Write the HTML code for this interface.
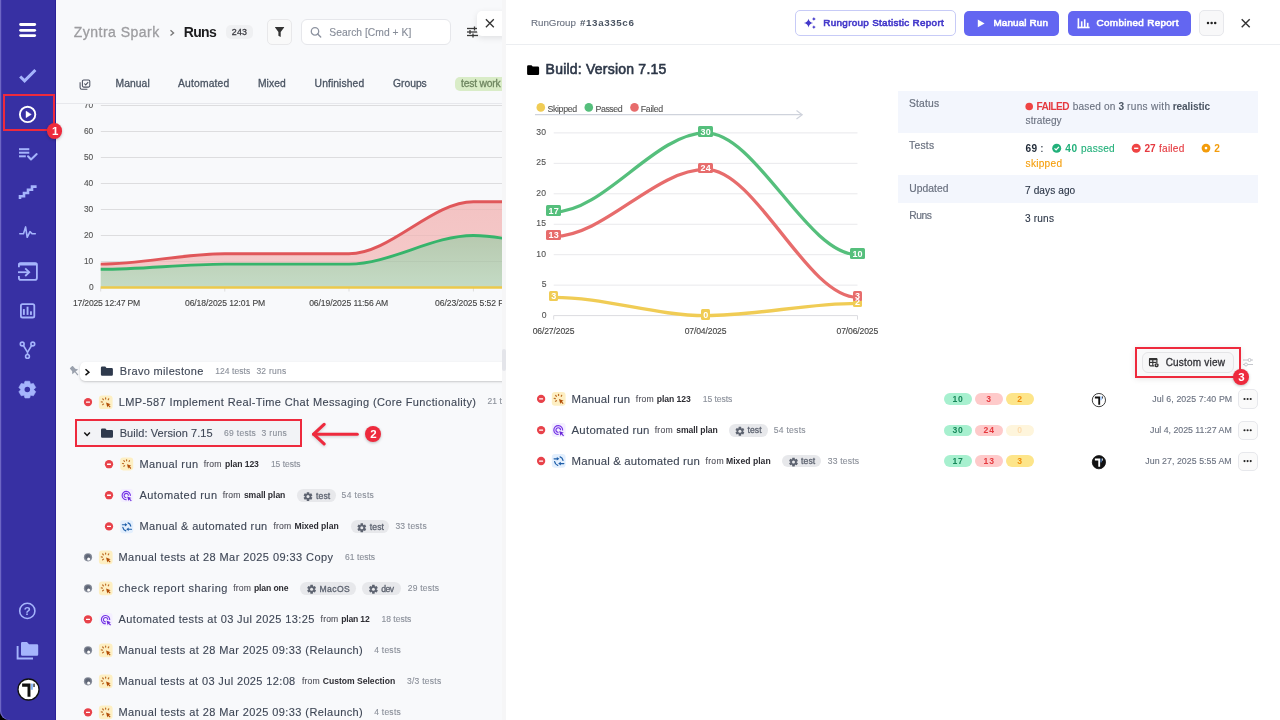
<!DOCTYPE html>
<html><head><meta charset="utf-8"><title>Runs</title>
<style>
html,body{margin:0;padding:0;}
body{width:1280px;height:720px;position:relative;overflow:hidden;background:#f8f9fb;font-family:"Liberation Sans", Arial, sans-serif;}

</style></head><body>
<div style="position:absolute;left:0px;top:0px;width:56px;height:720px;z-index:1;background:#3730a3;border-bottom-left-radius:9px;box-shadow:inset 1.2px 0 0 #6d66c4;"></div>
<div style="position:absolute;left:0px;top:700px;width:12px;height:20px;z-index:0;background:#000;"></div>
<div style="position:absolute;left:55px;top:0px;width:1px;height:720px;z-index:2;background:#2a2196;"></div>
<svg style="position:absolute;left:18px;top:22px;z-index:3;overflow:visible;" width="21" height="17" viewBox="0 0 21 17"><g transform="translate(0.000,0.000)"><line x1="2.6" y1="2.5" x2="16.7" y2="2.5" stroke="#fff" stroke-width="2.8" stroke-linecap="round"/><line x1="2.6" y1="8.3" x2="16.7" y2="8.3" stroke="#fff" stroke-width="2.8" stroke-linecap="round"/><line x1="2.6" y1="13.6" x2="16.7" y2="13.6" stroke="#fff" stroke-width="2.8" stroke-linecap="round"/></g></svg>
<svg style="position:absolute;left:18px;top:66px;z-index:3;overflow:visible;" width="21" height="19" viewBox="0 0 21 19"><g transform="translate(0.000,0.000)"><polyline points="2.2,10.5 6.6,14.8 17.4,4" fill="none" stroke="#a5b4fc" stroke-width="3" stroke-linecap="butt"/></g></svg>
<svg style="position:absolute;left:18px;top:104px;z-index:3;overflow:visible;" width="21" height="22" viewBox="0 0 21 22"><g transform="translate(0.000,0.500)"><circle cx="9.6" cy="9.9" r="7.7" fill="none" stroke="#fff" stroke-width="1.9"/><path d="M8 6.6 L13.3 9.9 L8 13.2 Z" fill="#fff" stroke="#fff" stroke-width="0.4" stroke-linejoin="round"/></g></svg>
<svg style="position:absolute;left:18px;top:146px;z-index:3;overflow:visible;" width="21" height="17" viewBox="0 0 21 17"><g transform="translate(0.000,0.000)"><g stroke="#a5b4fc" stroke-width="2" fill="none"><line x1="1" y1="3.2" x2="11.3" y2="3.2"/><line x1="1" y1="6.7" x2="11.3" y2="6.7"/><line x1="1" y1="10.3" x2="7.8" y2="10.3"/><polyline points="10,10.3 13,13.5 18.7,8.1" stroke-linecap="round" stroke-linejoin="round"/></g></g></svg>
<svg style="position:absolute;left:18px;top:185px;z-index:3;overflow:visible;" width="21" height="17" viewBox="0 0 21 17"><g transform="translate(0.000,0.000)"><path d="M2 14 L2 11.3 L6 11.3 L6 8 L10 8 L10 4.7 L14 4.7 L14 1.6 L18.6 1.6" fill="none" stroke="#a5b4fc" stroke-width="2.6" stroke-linejoin="miter"/></g></svg>
<svg style="position:absolute;left:18px;top:224px;z-index:3;overflow:visible;" width="21" height="17" viewBox="0 0 21 17"><g transform="translate(0.000,0.000)"><polyline points="1.8,9.8 5.5,9.8 7.6,2.9 9.2,13.3 12,7.7 14.2,9.8 17.3,9.8" fill="none" stroke="#a5b4fc" stroke-width="1.6" stroke-linejoin="round" stroke-linecap="round"/></g></svg>
<svg style="position:absolute;left:17px;top:261px;z-index:3;overflow:visible;" width="23" height="22" viewBox="0 0 23 22"><g transform="translate(0.000,0.000)"><g fill="none" stroke="#a5b4fc" stroke-width="1.8"><path d="M1.9 6.2 V4 Q1.9 2.2 3.8 2.2 H18 Q19.9 2.2 19.9 4 V16.9 Q19.9 18.8 18 18.8 H3.8 Q1.9 18.8 1.9 16.9 V15"/><line x1="1" y1="11.2" x2="12.2" y2="11.2"/><polyline points="8.2,7.4 12.2,11.2 8.2,15"/></g><rect x="1.5" y="1.8" width="18.8" height="2.7" rx="1" fill="#a5b4fc"/></g></svg>
<svg style="position:absolute;left:18px;top:302px;z-index:3;overflow:visible;" width="21" height="19" viewBox="0 0 21 19"><g transform="translate(0.000,0.000)"><g fill="none" stroke="#a5b4fc" stroke-width="1.8"><rect x="2.9" y="2.1" width="13.4" height="13.4" rx="1.6"/></g><g fill="#a5b4fc"><rect x="4.9" y="7.1" width="1.9" height="5.8"/><rect x="8.6" y="4.7" width="1.9" height="8.2"/><rect x="12" y="9.3" width="1.9" height="3.6"/></g></g></svg>
<svg style="position:absolute;left:18px;top:339px;z-index:3;overflow:visible;" width="21" height="22" viewBox="0 0 21 22"><g transform="translate(0.000,0.500)"><g fill="none" stroke="#a5b4fc" stroke-width="1.6"><circle cx="4.2" cy="4.5" r="1.9"/><circle cx="14.8" cy="4.5" r="1.9"/><circle cx="9.5" cy="16.9" r="1.9"/><path d="M5.4 6 L9.5 12.8 L13.6 6 M9.5 12.8 V15"/></g></g></svg>
<svg style="position:absolute;left:18px;top:380px;z-index:3;overflow:visible;" width="20" height="20" viewBox="0 0 20 20"><g transform="translate(0.000,0.000)"><polygon points="6.14,3.81 6.98,1.22 11.62,1.22 12.46,3.81 12.40,4.23 12.73,3.96 15.40,3.40 17.72,7.42 15.90,9.44 15.50,9.60 15.90,9.76 17.72,11.78 15.40,15.80 12.73,15.24 12.40,14.97 12.46,15.39 11.62,17.98 6.98,17.98 6.14,15.39 6.20,14.97 5.87,15.24 3.20,15.80 0.88,11.78 2.70,9.76 3.10,9.60 2.70,9.44 0.88,7.42 3.20,3.40 5.87,3.96 6.20,4.23" fill="#a5b4fc" stroke="#a5b4fc" stroke-width="0.6" stroke-linejoin="round"/><circle cx="9.3" cy="9.6" r="2.75" fill="#3730a3"/></g></svg>
<svg style="position:absolute;left:18px;top:600px;z-index:3;overflow:visible;" width="21" height="22" viewBox="0 0 21 22"><g transform="translate(0.000,0.700)"><circle cx="9.3" cy="10.2" r="7.6" fill="none" stroke="#a5b4fc" stroke-width="1.6"/><text x="9.3" y="14.3" text-anchor="middle" font-family="Liberation Sans" font-size="11.5" font-weight="700" fill="#a5b4fc">?</text></g></svg>
<svg style="position:absolute;left:16px;top:641px;z-index:3;overflow:visible;" width="25" height="21" viewBox="0 0 25 21"><g transform="translate(0.000,0.000)"><path d="M1.6 5 V17.5 H17" fill="none" stroke="#a5b4fc" stroke-width="1.9"/><path d="M5 2.2 Q5 1 6.2 1 H11 L13 3.2 H21 Q22.2 3.2 22.2 4.4 V13.5 Q22.2 14.7 21 14.7 H6.2 Q5 14.7 5 13.5 Z" fill="#a5b4fc"/></g></svg>
<svg style="position:absolute;left:17px;top:678px;z-index:3;overflow:visible;" width="24" height="24" viewBox="0 0 24 24"><g transform="translate(0.400,0.400)"><circle cx="11.1" cy="11.1" r="10.510619469026548" fill="#fff" stroke="#111" stroke-width="1.28"/><g transform="translate(11.1,11.1) scale(0.982)"><path d="M-6.5 -6 H2 V7.5 H-1 V-2.75 H-6.5 Z" fill="#111"/><rect x="2.75" y="-6" width="1.5" height="6.25" fill="#6aa5f5"/><rect x="5" y="-6" width="1.25" height="3.5" fill="#111"/></g></g></svg>
<div style="position:absolute;left:502px;top:0px;width:4px;height:720px;z-index:3;background:#f6f6f7;"></div>
<div style="position:absolute;left:502.2px;top:348.5px;width:3.6px;height:22.5px;z-index:4;background:#e4e5ea;border-radius:2px;"></div>
<div style="position:absolute;left:2.5px;top:94.4px;width:52.3px;height:37.099999999999994px;z-index:20;box-sizing:border-box;border:2.4px solid #ee2a3d;"></div>
<div style="position:absolute;left:47.199999999999996px;top:123.4px;width:15.2px;height:15.2px;z-index:21;background:#ee2a3d;border-radius:50%;box-shadow:0 1px 3px rgba(0,0,0,0.25);"></div>
<svg class="t" id="t139" style="position:absolute;left:51px;top:95px;z-index:22;overflow:visible" width="1" height="1"><text x="0.90" y="40.20" font-family="Liberation Sans, Arial, sans-serif" font-size="11.5" font-weight="700" fill="#fff" style="letter-spacing:0.000px;">1</text></svg>
<div style="position:absolute;left:75.1px;top:418.9px;width:227.00000000000003px;height:28.200000000000045px;z-index:20;box-sizing:border-box;border:2.4px solid #ee2a3d;"></div>
<svg style="position:absolute;left:310px;top:421px;z-index:20;overflow:visible;" width="51" height="27" viewBox="0 0 51 27"><g transform="translate(0.000,0.000)"><g fill="none" stroke="#ee2a3d" stroke-width="3.1" stroke-linecap="round" stroke-linejoin="round" style="filter:drop-shadow(0 1px 1.5px rgba(0,0,0,0.18))"><line x1="3.6" y1="13.2" x2="47.3" y2="13.2"/><polyline points="14.1,3.4 3.6,13.2 14.1,22.9"/></g></g></svg>
<div style="position:absolute;left:365.0px;top:425.79999999999995px;width:16.2px;height:16.2px;z-index:21;background:#ee2a3d;border-radius:50%;box-shadow:0 1px 3px rgba(0,0,0,0.25);"></div>
<svg class="t" id="t140" style="position:absolute;left:370px;top:398px;z-index:22;overflow:visible" width="1" height="1"><text x="0.20" y="40.10" font-family="Liberation Sans, Arial, sans-serif" font-size="11.5" font-weight="700" fill="#fff" style="letter-spacing:0.000px;">2</text></svg>
<div style="position:absolute;left:1135.4px;top:347.4px;width:106.09999999999991px;height:30.30000000000001px;z-index:20;box-sizing:border-box;border:2.4px solid #ee2a3d;"></div>
<div style="position:absolute;left:1233.3px;top:369.3px;width:15.8px;height:15.8px;z-index:21;background:#ee2a3d;border-radius:50%;box-shadow:0 1px 3px rgba(0,0,0,0.25);"></div>
<svg class="t" id="t141" style="position:absolute;left:1238px;top:341px;z-index:22;overflow:visible" width="1" height="1"><text x="0.30" y="40.40" font-family="Liberation Sans, Arial, sans-serif" font-size="11.5" font-weight="700" fill="#fff" style="letter-spacing:0.000px;">3</text></svg>
<div style="position:absolute;left:56px;top:0px;width:446px;height:720px;overflow:hidden;z-index:0;background:#f8f9fb;">
<svg class="t" id="t0" style="position:absolute;left:17px;top:-4px;z-index:5;overflow:visible" width="1" height="1"><text x="0.75" y="40.70" font-family="Liberation Sans, Arial, sans-serif" font-size="14" font-weight="400" fill="#9d9da0" stroke="#9d9da0" stroke-width="0.3" style="letter-spacing:0.487px;">Zyntra Spark</text></svg>
<svg style="position:absolute;left:113px;top:29px;z-index:3;overflow:visible;" width="8" height="9" viewBox="0 0 8 9"><g transform="translate(0.000,0.000)"><polyline points="1.5,1.2 4.6,3.9 1.5,6.6" fill="none" stroke="#777" stroke-width="1.3"/></g></svg>
<svg class="t" id="t1" style="position:absolute;left:127px;top:-4px;z-index:5;overflow:visible" width="1" height="1"><text x="0.80" y="40.75" font-family="Liberation Sans, Arial, sans-serif" font-size="14" font-weight="700" fill="#1c1c1e" style="letter-spacing:-0.705px;">Runs</text></svg>
<div style="position:absolute;left:170px;top:25.4px;width:27px;height:13.3px;z-index:1;background:#eff0f2;border-radius:5px;"></div>
<svg class="t" id="t2" style="position:absolute;left:175px;top:-5px;z-index:5;overflow:visible" width="1" height="1"><text x="0.70" y="40.00" font-family="Liberation Sans, Arial, sans-serif" font-size="8.9" font-weight="400" fill="#3a3a40" stroke="#3a3a40" stroke-width="0.3" style="letter-spacing:0.264px;">243</text></svg>
<div style="position:absolute;left:211.39999999999998px;top:19.4px;width:24.8px;height:25.2px;z-index:1;box-sizing:border-box;border:1px solid #e8e8ea;border-radius:5px;background:#f9f9f9;"></div>
<svg style="position:absolute;left:218px;top:26px;z-index:3;overflow:visible;" width="12" height="13" viewBox="0 0 12 13"><g transform="translate(0.800,0.700)"><path d="M0.4 0.3 H9.2 Q9.6 0.3 9.3 0.8 L5.9 5.2 V10.2 L3.6 9 V5.2 L0.3 0.8 Q0 0.3 0.4 0.3 Z" fill="#333"/></g></svg>
<div style="position:absolute;left:244.60000000000002px;top:18.8px;width:150.4px;height:25.8px;z-index:1;box-sizing:border-box;border:1px solid #e6e7eb;border-radius:6px;background:#fff;"></div>
<svg style="position:absolute;left:254px;top:26px;z-index:3;overflow:visible;" width="13" height="14" viewBox="0 0 13 14"><g transform="translate(0.000,0.500)"><circle cx="5" cy="4.9" r="3.7" fill="none" stroke="#8d93a0" stroke-width="1.3"/><line x1="7.7" y1="7.6" x2="10.7" y2="10.6" stroke="#8d93a0" stroke-width="1.4" stroke-linecap="round"/></g></svg>
<svg class="t" id="t3" style="position:absolute;left:273px;top:-5px;z-index:5;overflow:visible" width="1" height="1"><text x="0.30" y="40.80" font-family="Liberation Sans, Arial, sans-serif" font-size="10.3" font-weight="400" fill="#878d99" stroke="#878d99" stroke-width="0.12" style="letter-spacing:0.027px;">Search [Cmd + K]</text></svg>
<svg style="position:absolute;left:410px;top:26px;z-index:3;overflow:visible;" width="15" height="14" viewBox="0 0 15 14"><g transform="translate(0.000,0.500)"><g stroke="#3a3a3a" stroke-width="1.3"><line x1="1" y1="2" x2="12" y2="2"/><line x1="1" y1="5.5" x2="12" y2="5.5"/><line x1="1" y1="9" x2="12" y2="9"/><line x1="8.5" y1="0" x2="8.5" y2="4"/><line x1="4" y1="3.5" x2="4" y2="7.5"/><line x1="7" y1="7" x2="7" y2="11"/></g></g></svg>
<div style="position:absolute;left:421.2px;top:10.6px;width:30px;height:25.2px;z-index:6;background:#fff;border-radius:5px;box-shadow:0 2px 6px rgba(0,0,0,0.10);"></div>
<svg style="position:absolute;left:429px;top:18px;z-index:7;overflow:visible;" width="11" height="11" viewBox="0 0 11 11"><g transform="translate(0.300,0.700)"><path d="M0.6 0.6 L8.5 8.5 M8.5 0.6 L0.6 8.5" stroke="#333" stroke-width="1.3"/></g></svg>
<svg style="position:absolute;left:23px;top:79px;z-index:3;overflow:visible;" width="13" height="12" viewBox="0 0 13 12"><g transform="translate(0.000,0.000)"><g fill="none" stroke="#4b5160" stroke-width="1.05"><rect x="3.4" y="0.9" width="7.4" height="7.2" rx="1.3"/><path d="M1.1 3.2 V8.6 Q1.1 10.3 2.8 10.3 H8.4"/><polyline points="5.3,4.5 6.7,5.9 9.2,3.2"/></g></g></svg>
<svg class="t" id="t4" style="position:absolute;left:59px;top:47px;z-index:5;overflow:visible" width="1" height="1"><text x="0.50" y="40.20" font-family="Liberation Sans, Arial, sans-serif" font-size="10.3" font-weight="400" fill="#4b5563" stroke="#4b5563" stroke-width="0.3" style="letter-spacing:0.083px;">Manual</text></svg>
<svg class="t" id="t5" style="position:absolute;left:122px;top:47px;z-index:5;overflow:visible" width="1" height="1"><text x="0.00" y="40.20" font-family="Liberation Sans, Arial, sans-serif" font-size="10.3" font-weight="400" fill="#4b5563" stroke="#4b5563" stroke-width="0.3" style="letter-spacing:0.178px;">Automated</text></svg>
<svg class="t" id="t6" style="position:absolute;left:201px;top:47px;z-index:5;overflow:visible" width="1" height="1"><text x="0.90" y="40.20" font-family="Liberation Sans, Arial, sans-serif" font-size="10.3" font-weight="400" fill="#4b5563" stroke="#4b5563" stroke-width="0.3" style="letter-spacing:0.090px;">Mixed</text></svg>
<svg class="t" id="t7" style="position:absolute;left:258px;top:47px;z-index:5;overflow:visible" width="1" height="1"><text x="0.60" y="40.20" font-family="Liberation Sans, Arial, sans-serif" font-size="10.3" font-weight="400" fill="#4b5563" stroke="#4b5563" stroke-width="0.3" style="letter-spacing:0.097px;">Unfinished</text></svg>
<svg class="t" id="t8" style="position:absolute;left:337px;top:47px;z-index:5;overflow:visible" width="1" height="1"><text x="0.10" y="40.20" font-family="Liberation Sans, Arial, sans-serif" font-size="10.3" font-weight="400" fill="#4b5563" stroke="#4b5563" stroke-width="0.3" style="letter-spacing:-0.024px;">Groups</text></svg>
<div style="position:absolute;left:399px;top:76.5px;width:60px;height:14.6px;z-index:1;background:#d9ecc7;border-radius:5px;"></div>
<svg class="t" id="t9" style="position:absolute;left:405px;top:47px;z-index:5;overflow:visible" width="1" height="1"><text x="0.00" y="40.30" font-family="Liberation Sans, Arial, sans-serif" font-size="10.3" font-weight="400" fill="#6f8661" stroke="#6f8661" stroke-width="0.3" style="letter-spacing:-0.194px;">test work</text></svg>
<div style="position:absolute;left:0px;top:103px;width:446px;height:1px;z-index:4;background:#e7e8ec;"></div>
<div style="position:absolute;left:24.299999999999997px;top:361.8px;width:440px;height:19.2px;z-index:2;background:#fff;border-radius:5px;box-shadow:0 1px 3px rgba(0,0,0,0.12),0 1px 1.5px rgba(0,0,0,0.08);"></div>
<svg style="position:absolute;left:13px;top:365px;z-index:3;overflow:visible;" width="12" height="13" viewBox="0 0 12 13"><g transform="translate(0.500,0.500)"><g transform="rotate(-40 5 5.5)" fill="#9aa1ad"><rect x="3" y="0.3" width="4" height="4.6" rx="0.6"/><path d="M1.2 6.6 L2.8 4.4 H7.2 L8.8 6.6 Z"/><rect x="4.4" y="6.4" width="1.2" height="4.4"/></g></g></svg>
<svg style="position:absolute;left:28px;top:368px;z-index:3;overflow:visible;" width="8" height="9" viewBox="0 0 8 9"><g transform="translate(0.500,0.500)"><polyline points="1,0.8 4.4,3.7 1,6.6" fill="none" stroke="#111" stroke-width="1.5"/></g></svg>
<svg style="position:absolute;left:44px;top:366px;z-index:3;overflow:visible;" width="14" height="11" viewBox="0 0 14 11"><g transform="translate(0.900,0.600)"><path d="M0 1.2 Q0 0 1.2 0 H4.4 L5.6 1.4 H10.8 Q12 1.4 12 2.6 V7.999999999999999 Q12 9.2 10.8 9.2 H1.2 Q0 9.2 0 7.999999999999999 Z" fill="#2f3a4d"/></g></svg>
<svg class="t" id="t22" style="position:absolute;left:63px;top:335px;z-index:4;overflow:visible" width="1" height="1"><text x="0.80" y="40.00" font-family="Liberation Sans, Arial, sans-serif" font-size="11" font-weight="400" fill="#3f4756" stroke="#3f4756" stroke-width="0.12" style="letter-spacing:0.332px;">Bravo milestone</text></svg>
<svg class="t" id="t23" style="position:absolute;left:159px;top:333px;z-index:4;overflow:visible" width="1" height="1"><text x="0.20" y="40.90" font-family="Liberation Sans, Arial, sans-serif" font-size="8.5" font-weight="400" fill="#8b909a" stroke="#8b909a" stroke-width="0.12" style="letter-spacing:0.070px;">124 tests</text></svg>
<svg class="t" id="t24" style="position:absolute;left:200px;top:333px;z-index:4;overflow:visible" width="1" height="1"><text x="0.40" y="40.90" font-family="Liberation Sans, Arial, sans-serif" font-size="8.5" font-weight="400" fill="#8b909a" stroke="#8b909a" stroke-width="0.12" style="letter-spacing:0.233px;">32 runs</text></svg>
<svg style="position:absolute;left:27px;top:397px;z-index:3;overflow:visible;" width="11" height="12" viewBox="0 0 11 12"><g transform="translate(0.000,0.100)"><circle cx="5" cy="5" r="4.15" fill="#e8424a"/><rect x="3" y="4.4" width="4" height="1.3" rx="0.3" fill="#fff"/></g></svg>
<svg style="position:absolute;left:42px;top:395px;z-index:3;overflow:visible;" width="16" height="16" viewBox="0 0 16 16"><g transform="translate(0.900,0.400)"><rect x="0" y="0" width="13.7" height="13.7" rx="3.20" fill="#fdefc3"/><g transform="scale(1.000)"><g stroke="#b8621a" stroke-width="1.25" stroke-linecap="round" opacity="0.9"><line x1="6.7" y1="2.5" x2="6.7" y2="3.5"/><line x1="3.8" y1="3.5" x2="4.5" y2="4.3"/><line x1="9.8" y1="3.4" x2="9.4" y2="4.3"/><line x1="2.4" y1="6.4" x2="3.5" y2="6.6"/><line x1="3.7" y1="9.3" x2="4.6" y2="8.7"/></g><path d="M7.2 7.1 L11.7 8.8 L10 9.6 L11.7 11.3 L10.9 12.1 L9.2 10.4 L8.4 12 Z" fill="#b34d06"/></g></g></svg>
<svg class="t" id="t25" style="position:absolute;left:62px;top:365px;z-index:4;overflow:visible" width="1" height="1"><text x="0.80" y="40.70" font-family="Liberation Sans, Arial, sans-serif" font-size="11" font-weight="400" fill="#3f4756" stroke="#3f4756" stroke-width="0.12" style="letter-spacing:0.374px;">LMP-587 Implement Real-Time Chat Messaging (Core Functionality)</text></svg>
<svg class="t" id="t26" style="position:absolute;left:431px;top:364px;z-index:4;overflow:visible" width="1" height="1"><text x="0.50" y="40.20" font-family="Liberation Sans, Arial, sans-serif" font-size="8.5" font-weight="400" fill="#8b909a" stroke="#8b909a" stroke-width="0.12" style="letter-spacing:0.069px;">21 tests</text></svg>
<div style="position:absolute;left:21px;top:420.5px;width:223px;height:25px;z-index:1;background:#f2f3f6;"></div>
<svg style="position:absolute;left:27px;top:431px;z-index:3;overflow:visible;" width="9" height="8" viewBox="0 0 9 8"><g transform="translate(0.500,0.500)"><polyline points="0.8,1 3.6,4 6.4,1" fill="none" stroke="#111" stroke-width="1.5"/></g></svg>
<svg style="position:absolute;left:45px;top:428px;z-index:3;overflow:visible;" width="13" height="11" viewBox="0 0 13 11"><g transform="translate(0.000,0.500)"><path d="M0 1.2 Q0 0 1.2 0 H4.4 L5.6 1.4 H10.8 Q12 1.4 12 2.6 V7.999999999999999 Q12 9.2 10.8 9.2 H1.2 Q0 9.2 0 7.999999999999999 Z" fill="#2f3a4d"/></g></svg>
<svg class="t" id="t27" style="position:absolute;left:63px;top:397px;z-index:4;overflow:visible" width="1" height="1"><text x="0.70" y="40.00" font-family="Liberation Sans, Arial, sans-serif" font-size="11" font-weight="400" fill="#3f4756" stroke="#3f4756" stroke-width="0.12" style="letter-spacing:0.066px;">Build: Version 7.15</text></svg>
<svg class="t" id="t28" style="position:absolute;left:168px;top:395px;z-index:4;overflow:visible" width="1" height="1"><text x="0.10" y="40.60" font-family="Liberation Sans, Arial, sans-serif" font-size="8.5" font-weight="400" fill="#8b909a" stroke="#8b909a" stroke-width="0.12" style="letter-spacing:0.283px;">69 tests</text></svg>
<svg class="t" id="t29" style="position:absolute;left:205px;top:395px;z-index:4;overflow:visible" width="1" height="1"><text x="0.60" y="40.60" font-family="Liberation Sans, Arial, sans-serif" font-size="8.5" font-weight="400" fill="#8b909a" stroke="#8b909a" stroke-width="0.12" style="letter-spacing:0.325px;">3 runs</text></svg>
<svg style="position:absolute;left:48px;top:459px;z-index:3;overflow:visible;" width="11" height="12" viewBox="0 0 11 12"><g transform="translate(0.000,0.200)"><circle cx="5" cy="5" r="4.15" fill="#e8424a"/><rect x="3" y="4.4" width="4" height="1.3" rx="0.3" fill="#fff"/></g></svg>
<svg style="position:absolute;left:64px;top:457px;z-index:3;overflow:visible;" width="15" height="15" viewBox="0 0 15 15"><g transform="translate(0.200,0.400)"><rect x="0" y="0" width="13" height="13" rx="3.04" fill="#fdefc3"/><g transform="scale(0.949)"><g stroke="#b8621a" stroke-width="1.25" stroke-linecap="round" opacity="0.9"><line x1="6.7" y1="2.5" x2="6.7" y2="3.5"/><line x1="3.8" y1="3.5" x2="4.5" y2="4.3"/><line x1="9.8" y1="3.4" x2="9.4" y2="4.3"/><line x1="2.4" y1="6.4" x2="3.5" y2="6.6"/><line x1="3.7" y1="9.3" x2="4.6" y2="8.7"/></g><path d="M7.2 7.1 L11.7 8.8 L10 9.6 L11.7 11.3 L10.9 12.1 L9.2 10.4 L8.4 12 Z" fill="#b34d06"/></g></g></svg>
<svg class="t" id="t30" style="position:absolute;left:83px;top:428px;z-index:4;overflow:visible" width="1" height="1"><text x="0.50" y="40.20" font-family="Liberation Sans, Arial, sans-serif" font-size="11" font-weight="400" fill="#3f4756" stroke="#3f4756" stroke-width="0.12" style="letter-spacing:0.387px;">Manual run</text></svg>
<svg class="t" id="t31" style="position:absolute;left:147px;top:426px;z-index:4;overflow:visible" width="1" height="1"><text x="0.80" y="40.90" font-family="Liberation Sans, Arial, sans-serif" font-size="8.6" font-weight="400" fill="#52525b" stroke="#52525b" stroke-width="0.12" style="letter-spacing:0.157px;">from</text></svg>
<svg class="t" id="t32" style="position:absolute;left:169px;top:426px;z-index:4;overflow:visible" width="1" height="1"><text x="0.00" y="40.90" font-family="Liberation Sans, Arial, sans-serif" font-size="8.6" font-weight="700" fill="#2d2d33" style="letter-spacing:-0.073px;">plan 123</text></svg>
<svg class="t" id="t33" style="position:absolute;left:214px;top:426px;z-index:4;overflow:visible" width="1" height="1"><text x="0.90" y="40.90" font-family="Liberation Sans, Arial, sans-serif" font-size="8.5" font-weight="400" fill="#8b909a" stroke="#8b909a" stroke-width="0.12" style="letter-spacing:-0.017px;">15 tests</text></svg>
<svg style="position:absolute;left:48px;top:490px;z-index:3;overflow:visible;" width="11" height="12" viewBox="0 0 11 12"><g transform="translate(0.000,0.200)"><circle cx="5" cy="5" r="4.15" fill="#e8424a"/><rect x="3" y="4.4" width="4" height="1.3" rx="0.3" fill="#fff"/></g></svg>
<svg style="position:absolute;left:64px;top:489px;z-index:3;overflow:visible;" width="15" height="14" viewBox="0 0 15 14"><g transform="translate(0.200,0.000)"><rect x="0" y="0" width="13" height="13" rx="3.01" fill="#f4efff"/><g transform="scale(0.942)" fill="none" stroke="#7434e6" stroke-width="1.2"><path d="M10.83 7.33 A4.4 4.4 0 1 0 6.83 11.33"/><path d="M8.74 7.15 A2.3 2.3 0 1 0 6.65 9.24"/></g><g transform="scale(0.942)"><path d="M7.45 7.95 L12 9.6 L10.3 10.4 L12.2 12.3 L11.4 13.1 L9.5 11.2 L8.7 12.8 Z" fill="#6a28d9"/></g></g></svg>
<svg class="t" id="t34" style="position:absolute;left:83px;top:459px;z-index:4;overflow:visible" width="1" height="1"><text x="0.50" y="40.20" font-family="Liberation Sans, Arial, sans-serif" font-size="11" font-weight="400" fill="#3f4756" stroke="#3f4756" stroke-width="0.12" style="letter-spacing:0.447px;">Automated run</text></svg>
<svg class="t" id="t35" style="position:absolute;left:166px;top:457px;z-index:4;overflow:visible" width="1" height="1"><text x="0.80" y="40.90" font-family="Liberation Sans, Arial, sans-serif" font-size="8.6" font-weight="400" fill="#52525b" stroke="#52525b" stroke-width="0.12" style="letter-spacing:0.157px;">from</text></svg>
<svg class="t" id="t36" style="position:absolute;left:187px;top:457px;z-index:4;overflow:visible" width="1" height="1"><text x="0.90" y="40.90" font-family="Liberation Sans, Arial, sans-serif" font-size="8.6" font-weight="700" fill="#2d2d33" style="letter-spacing:-0.064px;">small plan</text></svg>
<div style="position:absolute;left:240.7px;top:489.2px;width:39px;height:12.8px;z-index:3;background:#e7e8eb;border-radius:6.4px;"></div>
<svg style="position:absolute;left:247px;top:491px;z-index:4;overflow:visible;" width="11" height="12" viewBox="0 0 11 12"><g transform="translate(0.000,0.600)"><polygon points="3.61,1.90 3.82,0.55 6.18,0.55 6.39,1.90 6.50,2.40 7.00,2.25 8.26,1.75 9.44,3.80 8.38,4.65 8.00,5.00 8.38,5.35 9.44,6.20 8.26,8.25 7.00,7.75 6.50,7.60 6.39,8.10 6.18,9.45 3.82,9.45 3.61,8.10 3.50,7.60 3.00,7.75 1.74,8.25 0.56,6.20 1.62,5.35 2.00,5.00 1.62,4.65 0.56,3.80 1.74,1.75 3.00,2.25 3.50,2.40" fill="#5d6370"/><circle cx="5" cy="5" r="1.5" fill="#e7e8eb"/></g></svg>
<svg class="t" id="t37" style="position:absolute;left:260px;top:459px;z-index:5;overflow:visible" width="1" height="1"><text x="0.00" y="40.10" font-family="Liberation Sans, Arial, sans-serif" font-size="8.6" font-weight="400" fill="#5d6370" stroke="#5d6370" stroke-width="0.3" style="letter-spacing:0.112px;">test</text></svg>
<svg class="t" id="t38" style="position:absolute;left:285px;top:457px;z-index:4;overflow:visible" width="1" height="1"><text x="0.60" y="40.90" font-family="Liberation Sans, Arial, sans-serif" font-size="8.5" font-weight="400" fill="#8b909a" stroke="#8b909a" stroke-width="0.12" style="letter-spacing:0.355px;">54 tests</text></svg>
<svg style="position:absolute;left:48px;top:521px;z-index:3;overflow:visible;" width="11" height="12" viewBox="0 0 11 12"><g transform="translate(0.000,0.400)"><circle cx="5" cy="5" r="4.15" fill="#e8424a"/><rect x="3" y="4.4" width="4" height="1.3" rx="0.3" fill="#fff"/></g></svg>
<svg style="position:absolute;left:64px;top:520px;z-index:3;overflow:visible;" width="15" height="15" viewBox="0 0 15 15"><g transform="translate(0.200,0.200)"><rect x="0" y="0" width="13" height="13" rx="3.01" fill="#e3effd"/><g transform="scale(0.942)" fill="none" stroke="#1f5fa9" stroke-width="1.25" stroke-linecap="round"><path d="M8.3 2.9 Q10.7 3.7 11.2 6.3"/><path d="M2.8 7.6 Q3.3 10.4 6 11.3"/><line x1="2.3" y1="4.8" x2="5.4" y2="4.8"/><line x1="8.6" y1="9.6" x2="12" y2="9.6"/></g><g transform="scale(0.942)" fill="#1f5fa9"><path d="M5 3 L7.6 4.8 L5 6.6 Z"/><path d="M9 7.8 L6.4 9.6 L9 11.4 Z"/></g></g></svg>
<svg class="t" id="t39" style="position:absolute;left:83px;top:490px;z-index:4;overflow:visible" width="1" height="1"><text x="0.50" y="40.40" font-family="Liberation Sans, Arial, sans-serif" font-size="11" font-weight="400" fill="#3f4756" stroke="#3f4756" stroke-width="0.12" style="letter-spacing:0.345px;">Manual &amp; automated run</text></svg>
<svg class="t" id="t40" style="position:absolute;left:217px;top:489px;z-index:4;overflow:visible" width="1" height="1"><text x="0.50" y="40.10" font-family="Liberation Sans, Arial, sans-serif" font-size="8.6" font-weight="400" fill="#52525b" stroke="#52525b" stroke-width="0.12" style="letter-spacing:0.157px;">from</text></svg>
<svg class="t" id="t41" style="position:absolute;left:238px;top:489px;z-index:4;overflow:visible" width="1" height="1"><text x="0.60" y="40.10" font-family="Liberation Sans, Arial, sans-serif" font-size="8.6" font-weight="700" fill="#2d2d33" style="letter-spacing:-0.040px;">Mixed plan</text></svg>
<div style="position:absolute;left:294.5px;top:520.4px;width:38.6px;height:12.8px;z-index:3;background:#e7e8eb;border-radius:6.4px;"></div>
<svg style="position:absolute;left:300px;top:522px;z-index:4;overflow:visible;" width="12" height="12" viewBox="0 0 12 12"><g transform="translate(0.800,0.800)"><polygon points="3.61,1.90 3.82,0.55 6.18,0.55 6.39,1.90 6.50,2.40 7.00,2.25 8.26,1.75 9.44,3.80 8.38,4.65 8.00,5.00 8.38,5.35 9.44,6.20 8.26,8.25 7.00,7.75 6.50,7.60 6.39,8.10 6.18,9.45 3.82,9.45 3.61,8.10 3.50,7.60 3.00,7.75 1.74,8.25 0.56,6.20 1.62,5.35 2.00,5.00 1.62,4.65 0.56,3.80 1.74,1.75 3.00,2.25 3.50,2.40" fill="#5d6370"/><circle cx="5" cy="5" r="1.5" fill="#e7e8eb"/></g></svg>
<svg class="t" id="t42" style="position:absolute;left:313px;top:490px;z-index:5;overflow:visible" width="1" height="1"><text x="0.80" y="40.30" font-family="Liberation Sans, Arial, sans-serif" font-size="8.6" font-weight="400" fill="#5d6370" stroke="#5d6370" stroke-width="0.3" style="letter-spacing:0.112px;">test</text></svg>
<svg class="t" id="t43" style="position:absolute;left:339px;top:489px;z-index:4;overflow:visible" width="1" height="1"><text x="0.40" y="40.10" font-family="Liberation Sans, Arial, sans-serif" font-size="8.5" font-weight="400" fill="#8b909a" stroke="#8b909a" stroke-width="0.12" style="letter-spacing:0.212px;">33 tests</text></svg>
<svg style="position:absolute;left:27px;top:552px;z-index:3;overflow:visible;" width="11" height="12" viewBox="0 0 11 12"><g transform="translate(0.000,0.300)"><circle cx="5" cy="5" r="4.1" fill="#858b98"/><circle cx="4.9" cy="4.6" r="2.7" fill="#5f6676"/><circle cx="5.6" cy="6.6" r="1.5" fill="#fff"/></g></svg>
<svg style="position:absolute;left:42px;top:550px;z-index:3;overflow:visible;" width="16" height="16" viewBox="0 0 16 16"><g transform="translate(0.900,0.500)"><rect x="0" y="0" width="13.7" height="13.7" rx="3.20" fill="#fdefc3"/><g transform="scale(1.000)"><g stroke="#b8621a" stroke-width="1.25" stroke-linecap="round" opacity="0.9"><line x1="6.7" y1="2.5" x2="6.7" y2="3.5"/><line x1="3.8" y1="3.5" x2="4.5" y2="4.3"/><line x1="9.8" y1="3.4" x2="9.4" y2="4.3"/><line x1="2.4" y1="6.4" x2="3.5" y2="6.6"/><line x1="3.7" y1="9.3" x2="4.6" y2="8.7"/></g><path d="M7.2 7.1 L11.7 8.8 L10 9.6 L11.7 11.3 L10.9 12.1 L9.2 10.4 L8.4 12 Z" fill="#b34d06"/></g></g></svg>
<svg class="t" id="t44" style="position:absolute;left:62px;top:521px;z-index:4;overflow:visible" width="1" height="1"><text x="0.50" y="40.30" font-family="Liberation Sans, Arial, sans-serif" font-size="11" font-weight="400" fill="#3f4756" stroke="#3f4756" stroke-width="0.12" style="letter-spacing:0.426px;">Manual tests at 28 Mar 2025 09:33 Copy</text></svg>
<svg class="t" id="t45" style="position:absolute;left:289px;top:519px;z-index:4;overflow:visible" width="1" height="1"><text x="0.10" y="40.60" font-family="Liberation Sans, Arial, sans-serif" font-size="8.5" font-weight="400" fill="#8b909a" stroke="#8b909a" stroke-width="0.12" style="letter-spacing:0.026px;">61 tests</text></svg>
<svg style="position:absolute;left:27px;top:583px;z-index:3;overflow:visible;" width="11" height="12" viewBox="0 0 11 12"><g transform="translate(0.000,0.300)"><circle cx="5" cy="5" r="4.1" fill="#858b98"/><circle cx="4.9" cy="4.6" r="2.7" fill="#5f6676"/><circle cx="5.6" cy="6.6" r="1.5" fill="#fff"/></g></svg>
<svg style="position:absolute;left:42px;top:581px;z-index:3;overflow:visible;" width="16" height="16" viewBox="0 0 16 16"><g transform="translate(0.900,0.500)"><rect x="0" y="0" width="13.7" height="13.7" rx="3.20" fill="#fdefc3"/><g transform="scale(1.000)"><g stroke="#b8621a" stroke-width="1.25" stroke-linecap="round" opacity="0.9"><line x1="6.7" y1="2.5" x2="6.7" y2="3.5"/><line x1="3.8" y1="3.5" x2="4.5" y2="4.3"/><line x1="9.8" y1="3.4" x2="9.4" y2="4.3"/><line x1="2.4" y1="6.4" x2="3.5" y2="6.6"/><line x1="3.7" y1="9.3" x2="4.6" y2="8.7"/></g><path d="M7.2 7.1 L11.7 8.8 L10 9.6 L11.7 11.3 L10.9 12.1 L9.2 10.4 L8.4 12 Z" fill="#b34d06"/></g></g></svg>
<svg class="t" id="t46" style="position:absolute;left:62px;top:552px;z-index:4;overflow:visible" width="1" height="1"><text x="0.50" y="40.30" font-family="Liberation Sans, Arial, sans-serif" font-size="11" font-weight="400" fill="#3f4756" stroke="#3f4756" stroke-width="0.12" style="letter-spacing:0.487px;">check report sharing</text></svg>
<svg class="t" id="t47" style="position:absolute;left:177px;top:550px;z-index:4;overflow:visible" width="1" height="1"><text x="0.20" y="40.60" font-family="Liberation Sans, Arial, sans-serif" font-size="8.6" font-weight="400" fill="#52525b" stroke="#52525b" stroke-width="0.12" style="letter-spacing:0.157px;">from</text></svg>
<svg class="t" id="t48" style="position:absolute;left:197px;top:550px;z-index:4;overflow:visible" width="1" height="1"><text x="0.90" y="40.60" font-family="Liberation Sans, Arial, sans-serif" font-size="8.6" font-weight="700" fill="#2d2d33" style="letter-spacing:-0.107px;">plan one</text></svg>
<div style="position:absolute;left:244.3px;top:581.8px;width:55.9px;height:12.8px;z-index:3;background:#e7e8eb;border-radius:6.4px;"></div>
<svg style="position:absolute;left:250px;top:584px;z-index:4;overflow:visible;" width="12" height="12" viewBox="0 0 12 12"><g transform="translate(0.600,0.200)"><polygon points="3.61,1.90 3.82,0.55 6.18,0.55 6.39,1.90 6.50,2.40 7.00,2.25 8.26,1.75 9.44,3.80 8.38,4.65 8.00,5.00 8.38,5.35 9.44,6.20 8.26,8.25 7.00,7.75 6.50,7.60 6.39,8.10 6.18,9.45 3.82,9.45 3.61,8.10 3.50,7.60 3.00,7.75 1.74,8.25 0.56,6.20 1.62,5.35 2.00,5.00 1.62,4.65 0.56,3.80 1.74,1.75 3.00,2.25 3.50,2.40" fill="#5d6370"/><circle cx="5" cy="5" r="1.5" fill="#e7e8eb"/></g></svg>
<svg class="t" id="t49" style="position:absolute;left:263px;top:551px;z-index:5;overflow:visible" width="1" height="1"><text x="0.50" y="40.80" font-family="Liberation Sans, Arial, sans-serif" font-size="8.6" font-weight="400" fill="#5d6370" stroke="#5d6370" stroke-width="0.3" style="letter-spacing:0.395px;">MacOS</text></svg>
<div style="position:absolute;left:306.1px;top:581.8px;width:39.2px;height:12.8px;z-index:3;background:#e7e8eb;border-radius:6.4px;"></div>
<svg style="position:absolute;left:312px;top:584px;z-index:4;overflow:visible;" width="12" height="12" viewBox="0 0 12 12"><g transform="translate(0.400,0.200)"><polygon points="3.61,1.90 3.82,0.55 6.18,0.55 6.39,1.90 6.50,2.40 7.00,2.25 8.26,1.75 9.44,3.80 8.38,4.65 8.00,5.00 8.38,5.35 9.44,6.20 8.26,8.25 7.00,7.75 6.50,7.60 6.39,8.10 6.18,9.45 3.82,9.45 3.61,8.10 3.50,7.60 3.00,7.75 1.74,8.25 0.56,6.20 1.62,5.35 2.00,5.00 1.62,4.65 0.56,3.80 1.74,1.75 3.00,2.25 3.50,2.40" fill="#5d6370"/><circle cx="5" cy="5" r="1.5" fill="#e7e8eb"/></g></svg>
<svg class="t" id="t50" style="position:absolute;left:325px;top:551px;z-index:5;overflow:visible" width="1" height="1"><text x="0.30" y="40.80" font-family="Liberation Sans, Arial, sans-serif" font-size="8.6" font-weight="400" fill="#5d6370" stroke="#5d6370" stroke-width="0.3" style="letter-spacing:-0.529px;">dev</text></svg>
<svg class="t" id="t51" style="position:absolute;left:351px;top:550px;z-index:4;overflow:visible" width="1" height="1"><text x="0.80" y="40.60" font-family="Liberation Sans, Arial, sans-serif" font-size="8.5" font-weight="400" fill="#8b909a" stroke="#8b909a" stroke-width="0.12" style="letter-spacing:0.212px;">29 tests</text></svg>
<svg style="position:absolute;left:27px;top:614px;z-index:3;overflow:visible;" width="11" height="12" viewBox="0 0 11 12"><g transform="translate(0.000,0.300)"><circle cx="5" cy="5" r="4.15" fill="#e8424a"/><rect x="3" y="4.4" width="4" height="1.3" rx="0.3" fill="#fff"/></g></svg>
<svg style="position:absolute;left:43px;top:613px;z-index:3;overflow:visible;" width="15" height="15" viewBox="0 0 15 15"><g transform="translate(0.500,0.100)"><rect x="0" y="0" width="13" height="13" rx="3.01" fill="#f4efff"/><g transform="scale(0.942)" fill="none" stroke="#7434e6" stroke-width="1.2"><path d="M10.83 7.33 A4.4 4.4 0 1 0 6.83 11.33"/><path d="M8.74 7.15 A2.3 2.3 0 1 0 6.65 9.24"/></g><g transform="scale(0.942)"><path d="M7.45 7.95 L12 9.6 L10.3 10.4 L12.2 12.3 L11.4 13.1 L9.5 11.2 L8.7 12.8 Z" fill="#6a28d9"/></g></g></svg>
<svg class="t" id="t52" style="position:absolute;left:62px;top:583px;z-index:4;overflow:visible" width="1" height="1"><text x="0.50" y="40.30" font-family="Liberation Sans, Arial, sans-serif" font-size="11" font-weight="400" fill="#3f4756" stroke="#3f4756" stroke-width="0.12" style="letter-spacing:0.388px;">Automated tests at 03 Jul 2025 13:25</text></svg>
<svg class="t" id="t53" style="position:absolute;left:264px;top:581px;z-index:4;overflow:visible" width="1" height="1"><text x="0.60" y="40.60" font-family="Liberation Sans, Arial, sans-serif" font-size="8.6" font-weight="400" fill="#52525b" stroke="#52525b" stroke-width="0.12" style="letter-spacing:0.157px;">from</text></svg>
<svg class="t" id="t54" style="position:absolute;left:285px;top:581px;z-index:4;overflow:visible" width="1" height="1"><text x="0.20" y="40.60" font-family="Liberation Sans, Arial, sans-serif" font-size="8.6" font-weight="700" fill="#2d2d33" style="letter-spacing:-0.189px;">plan 12</text></svg>
<svg class="t" id="t55" style="position:absolute;left:325px;top:581px;z-index:4;overflow:visible" width="1" height="1"><text x="0.50" y="40.60" font-family="Liberation Sans, Arial, sans-serif" font-size="8.5" font-weight="400" fill="#8b909a" stroke="#8b909a" stroke-width="0.12" style="letter-spacing:0.012px;">18 tests</text></svg>
<svg style="position:absolute;left:27px;top:645px;z-index:3;overflow:visible;" width="11" height="12" viewBox="0 0 11 12"><g transform="translate(0.000,0.300)"><circle cx="5" cy="5" r="4.1" fill="#858b98"/><circle cx="4.9" cy="4.6" r="2.7" fill="#5f6676"/><circle cx="5.6" cy="6.6" r="1.5" fill="#fff"/></g></svg>
<svg style="position:absolute;left:42px;top:643px;z-index:3;overflow:visible;" width="16" height="16" viewBox="0 0 16 16"><g transform="translate(0.900,0.500)"><rect x="0" y="0" width="13.7" height="13.7" rx="3.20" fill="#fdefc3"/><g transform="scale(1.000)"><g stroke="#b8621a" stroke-width="1.25" stroke-linecap="round" opacity="0.9"><line x1="6.7" y1="2.5" x2="6.7" y2="3.5"/><line x1="3.8" y1="3.5" x2="4.5" y2="4.3"/><line x1="9.8" y1="3.4" x2="9.4" y2="4.3"/><line x1="2.4" y1="6.4" x2="3.5" y2="6.6"/><line x1="3.7" y1="9.3" x2="4.6" y2="8.7"/></g><path d="M7.2 7.1 L11.7 8.8 L10 9.6 L11.7 11.3 L10.9 12.1 L9.2 10.4 L8.4 12 Z" fill="#b34d06"/></g></g></svg>
<svg class="t" id="t56" style="position:absolute;left:62px;top:614px;z-index:4;overflow:visible" width="1" height="1"><text x="0.50" y="40.30" font-family="Liberation Sans, Arial, sans-serif" font-size="11" font-weight="400" fill="#3f4756" stroke="#3f4756" stroke-width="0.12" style="letter-spacing:0.405px;">Manual tests at 28 Mar 2025 09:33 (Relaunch)</text></svg>
<svg class="t" id="t57" style="position:absolute;left:318px;top:612px;z-index:4;overflow:visible" width="1" height="1"><text x="0.20" y="40.60" font-family="Liberation Sans, Arial, sans-serif" font-size="8.5" font-weight="400" fill="#8b909a" stroke="#8b909a" stroke-width="0.12" style="letter-spacing:0.252px;">4 tests</text></svg>
<svg style="position:absolute;left:27px;top:676px;z-index:3;overflow:visible;" width="11" height="12" viewBox="0 0 11 12"><g transform="translate(0.000,0.300)"><circle cx="5" cy="5" r="4.1" fill="#858b98"/><circle cx="4.9" cy="4.6" r="2.7" fill="#5f6676"/><circle cx="5.6" cy="6.6" r="1.5" fill="#fff"/></g></svg>
<svg style="position:absolute;left:42px;top:674px;z-index:3;overflow:visible;" width="16" height="16" viewBox="0 0 16 16"><g transform="translate(0.900,0.500)"><rect x="0" y="0" width="13.7" height="13.7" rx="3.20" fill="#fdefc3"/><g transform="scale(1.000)"><g stroke="#b8621a" stroke-width="1.25" stroke-linecap="round" opacity="0.9"><line x1="6.7" y1="2.5" x2="6.7" y2="3.5"/><line x1="3.8" y1="3.5" x2="4.5" y2="4.3"/><line x1="9.8" y1="3.4" x2="9.4" y2="4.3"/><line x1="2.4" y1="6.4" x2="3.5" y2="6.6"/><line x1="3.7" y1="9.3" x2="4.6" y2="8.7"/></g><path d="M7.2 7.1 L11.7 8.8 L10 9.6 L11.7 11.3 L10.9 12.1 L9.2 10.4 L8.4 12 Z" fill="#b34d06"/></g></g></svg>
<svg class="t" id="t58" style="position:absolute;left:62px;top:645px;z-index:4;overflow:visible" width="1" height="1"><text x="0.50" y="40.30" font-family="Liberation Sans, Arial, sans-serif" font-size="11" font-weight="400" fill="#3f4756" stroke="#3f4756" stroke-width="0.12" style="letter-spacing:0.363px;">Manual tests at 03 Jul 2025 12:08</text></svg>
<svg class="t" id="t59" style="position:absolute;left:246px;top:643px;z-index:4;overflow:visible" width="1" height="1"><text x="0.00" y="40.60" font-family="Liberation Sans, Arial, sans-serif" font-size="8.6" font-weight="400" fill="#52525b" stroke="#52525b" stroke-width="0.12" style="letter-spacing:0.157px;">from</text></svg>
<svg class="t" id="t60" style="position:absolute;left:266px;top:643px;z-index:4;overflow:visible" width="1" height="1"><text x="0.70" y="40.60" font-family="Liberation Sans, Arial, sans-serif" font-size="8.6" font-weight="700" fill="#2d2d33" style="letter-spacing:-0.009px;">Custom Selection</text></svg>
<svg class="t" id="t61" style="position:absolute;left:351px;top:643px;z-index:4;overflow:visible" width="1" height="1"><text x="0.00" y="40.60" font-family="Liberation Sans, Arial, sans-serif" font-size="8.5" font-weight="400" fill="#8b909a" stroke="#8b909a" stroke-width="0.12" style="letter-spacing:0.265px;">3/3 tests</text></svg>
<svg style="position:absolute;left:27px;top:707px;z-index:3;overflow:visible;" width="11" height="12" viewBox="0 0 11 12"><g transform="translate(0.000,0.300)"><circle cx="5" cy="5" r="4.15" fill="#e8424a"/><rect x="3" y="4.4" width="4" height="1.3" rx="0.3" fill="#fff"/></g></svg>
<svg style="position:absolute;left:42px;top:705px;z-index:3;overflow:visible;" width="16" height="16" viewBox="0 0 16 16"><g transform="translate(0.900,0.500)"><rect x="0" y="0" width="13.7" height="13.7" rx="3.20" fill="#fdefc3"/><g transform="scale(1.000)"><g stroke="#b8621a" stroke-width="1.25" stroke-linecap="round" opacity="0.9"><line x1="6.7" y1="2.5" x2="6.7" y2="3.5"/><line x1="3.8" y1="3.5" x2="4.5" y2="4.3"/><line x1="9.8" y1="3.4" x2="9.4" y2="4.3"/><line x1="2.4" y1="6.4" x2="3.5" y2="6.6"/><line x1="3.7" y1="9.3" x2="4.6" y2="8.7"/></g><path d="M7.2 7.1 L11.7 8.8 L10 9.6 L11.7 11.3 L10.9 12.1 L9.2 10.4 L8.4 12 Z" fill="#b34d06"/></g></g></svg>
<svg class="t" id="t62" style="position:absolute;left:62px;top:676px;z-index:4;overflow:visible" width="1" height="1"><text x="0.50" y="40.30" font-family="Liberation Sans, Arial, sans-serif" font-size="11" font-weight="400" fill="#3f4756" stroke="#3f4756" stroke-width="0.12" style="letter-spacing:0.405px;">Manual tests at 28 Mar 2025 09:33 (Relaunch)</text></svg>
<svg class="t" id="t63" style="position:absolute;left:318px;top:674px;z-index:4;overflow:visible" width="1" height="1"><text x="0.20" y="40.60" font-family="Liberation Sans, Arial, sans-serif" font-size="8.5" font-weight="400" fill="#8b909a" stroke="#8b909a" stroke-width="0.12" style="letter-spacing:0.252px;">4 tests</text></svg>
</div>
<div style="position:absolute;left:72px;top:104px;width:430px;height:212px;overflow:hidden;z-index:0;">
<svg style="position:absolute;left:0px;top:0px;z-index:1;overflow:visible;" width="440" height="212" viewBox="72 104 440 212"><line x1="100.8" y1="287.5" x2="510" y2="287.5" stroke="#e6e6e8" stroke-width="1"/><line x1="100.8" y1="261.5" x2="510" y2="261.5" stroke="#e6e6e8" stroke-width="1"/><line x1="100.8" y1="235.5" x2="510" y2="235.5" stroke="#e6e6e8" stroke-width="1"/><line x1="100.8" y1="209.5" x2="510" y2="209.5" stroke="#e6e6e8" stroke-width="1"/><line x1="100.8" y1="183.5" x2="510" y2="183.5" stroke="#e6e6e8" stroke-width="1"/><line x1="100.8" y1="157.5" x2="510" y2="157.5" stroke="#e6e6e8" stroke-width="1"/><line x1="100.8" y1="131.5" x2="510" y2="131.5" stroke="#e6e6e8" stroke-width="1"/><line x1="100.8" y1="105.5" x2="510" y2="105.5" stroke="#e6e6e8" stroke-width="1"/></svg>
<svg class="t" id="t10" style="position:absolute;left:17px;top:145px;z-index:5;overflow:visible" width="1" height="1"><text x="0.10" y="40.60" font-family="Liberation Sans, Arial, sans-serif" font-size="8.4" font-weight="400" fill="#555" stroke="#555" stroke-width="0.12" style="letter-spacing:0.000px;">0</text></svg>
<svg class="t" id="t11" style="position:absolute;left:11px;top:119px;z-index:5;overflow:visible" width="1" height="1"><text x="0.90" y="40.60" font-family="Liberation Sans, Arial, sans-serif" font-size="8.4" font-weight="400" fill="#555" stroke="#555" stroke-width="0.12" style="letter-spacing:-0.058px;">10</text></svg>
<svg class="t" id="t12" style="position:absolute;left:11px;top:93px;z-index:5;overflow:visible" width="1" height="1"><text x="0.90" y="40.60" font-family="Liberation Sans, Arial, sans-serif" font-size="8.4" font-weight="400" fill="#555" stroke="#555" stroke-width="0.12" style="letter-spacing:-0.058px;">20</text></svg>
<svg class="t" id="t13" style="position:absolute;left:11px;top:67px;z-index:5;overflow:visible" width="1" height="1"><text x="0.90" y="40.60" font-family="Liberation Sans, Arial, sans-serif" font-size="8.4" font-weight="400" fill="#555" stroke="#555" stroke-width="0.12" style="letter-spacing:-0.058px;">30</text></svg>
<svg class="t" id="t14" style="position:absolute;left:11px;top:41px;z-index:5;overflow:visible" width="1" height="1"><text x="0.90" y="40.60" font-family="Liberation Sans, Arial, sans-serif" font-size="8.4" font-weight="400" fill="#555" stroke="#555" stroke-width="0.12" style="letter-spacing:-0.058px;">40</text></svg>
<svg class="t" id="t15" style="position:absolute;left:11px;top:15px;z-index:5;overflow:visible" width="1" height="1"><text x="0.90" y="40.60" font-family="Liberation Sans, Arial, sans-serif" font-size="8.4" font-weight="400" fill="#555" stroke="#555" stroke-width="0.12" style="letter-spacing:-0.058px;">50</text></svg>
<svg class="t" id="t16" style="position:absolute;left:11px;top:-11px;z-index:5;overflow:visible" width="1" height="1"><text x="0.90" y="40.60" font-family="Liberation Sans, Arial, sans-serif" font-size="8.4" font-weight="400" fill="#555" stroke="#555" stroke-width="0.12" style="letter-spacing:-0.058px;">60</text></svg>
<svg class="t" id="t17" style="position:absolute;left:11px;top:-37px;z-index:5;overflow:visible" width="1" height="1"><text x="0.90" y="40.60" font-family="Liberation Sans, Arial, sans-serif" font-size="8.4" font-weight="400" fill="#555" stroke="#555" stroke-width="0.12" style="letter-spacing:-0.058px;">70</text></svg>
<svg style="position:absolute;left:0px;top:0px;z-index:2;overflow:visible;" width="440" height="212" viewBox="72 104 440 212"><line x1="100.7" y1="287.5" x2="100.7" y2="291.5" stroke="#ddd" stroke-width="1"/><line x1="224.8" y1="287.5" x2="224.8" y2="291.5" stroke="#ddd" stroke-width="1"/><line x1="349.0" y1="287.5" x2="349.0" y2="291.5" stroke="#ddd" stroke-width="1"/><line x1="473.4" y1="287.5" x2="473.4" y2="291.5" stroke="#ddd" stroke-width="1"/><line x1="597.6" y1="287.5" x2="597.6" y2="291.5" stroke="#ddd" stroke-width="1"/><defs><linearGradient id="gg" x1="0" y1="0" x2="0" y2="1"><stop offset="0" stop-color="#b7c9af"/><stop offset="1" stop-color="#c4dbc5"/></linearGradient><linearGradient id="rg" x1="0" y1="0" x2="0" y2="1"><stop offset="0" stop-color="#f3c3c3"/><stop offset="1" stop-color="#f5c9c9"/></linearGradient></defs><path d="M100.70,269.30 C142.07,269.30 183.43,264.10 224.80,264.10 C266.20,264.10 307.60,264.10 349.00,264.10 C390.47,264.10 431.93,235.50 473.40,235.50 C514.80,235.50 556.20,255.00 597.60,255.00 L597.6,287.5 L100.7,287.5 Z" fill="url(#gg)"/><path d="M100.70,264.10 C142.07,264.10 183.43,253.70 224.80,253.70 C266.20,253.70 307.60,253.70 349.00,253.70 C390.47,253.70 431.93,201.70 473.40,201.70 C514.80,201.70 556.20,201.70 597.60,201.70 L597.60,255.00 C556.20,255.00 514.80,235.50 473.40,235.50 C431.93,235.50 390.47,264.10 349.00,264.10 C307.60,264.10 266.20,264.10 224.80,264.10 C183.43,264.10 142.07,269.30 100.70,269.30 Z" fill="url(#rg)"/><line x1="100.8" y1="261.5" x2="510" y2="261.5" stroke="rgba(0,0,0,0.035)" stroke-width="1"/><line x1="100.8" y1="235.5" x2="510" y2="235.5" stroke="rgba(0,0,0,0.035)" stroke-width="1"/><line x1="100.8" y1="209.5" x2="510" y2="209.5" stroke="rgba(0,0,0,0.035)" stroke-width="1"/><line x1="100.8" y1="183.5" x2="510" y2="183.5" stroke="rgba(0,0,0,0.035)" stroke-width="1"/><line x1="100.8" y1="157.5" x2="510" y2="157.5" stroke="rgba(0,0,0,0.035)" stroke-width="1"/><line x1="100.8" y1="131.5" x2="510" y2="131.5" stroke="rgba(0,0,0,0.035)" stroke-width="1"/><line x1="100.8" y1="105.5" x2="510" y2="105.5" stroke="rgba(0,0,0,0.035)" stroke-width="1"/><path d="M100.70,269.30 C142.07,269.30 183.43,264.10 224.80,264.10 C266.20,264.10 307.60,264.10 349.00,264.10 C390.47,264.10 431.93,235.50 473.40,235.50 C514.80,235.50 556.20,255.00 597.60,255.00" fill="none" stroke="#36b46b" stroke-width="2.9"/><path d="M100.70,264.10 C142.07,264.10 183.43,253.70 224.80,253.70 C266.20,253.70 307.60,253.70 349.00,253.70 C390.47,253.70 431.93,201.70 473.40,201.70 C514.80,201.70 556.20,201.70 597.60,201.70" fill="none" stroke="#e0575a" stroke-width="2.9"/><line x1="100.7" y1="287.5" x2="620" y2="287.5" stroke="#ecc94b" stroke-width="2.6"/></svg>
<svg class="t" id="t18" style="position:absolute;left:1px;top:161px;z-index:5;overflow:visible" width="1" height="1"><text x="0.00" y="40.50" font-family="Liberation Sans, Arial, sans-serif" font-size="8.6" font-weight="400" fill="#444" stroke="#444" stroke-width="0.12" style="letter-spacing:-0.205px;">17/2025 12:47 PM</text></svg>
<svg class="t" id="t19" style="position:absolute;left:113px;top:161px;z-index:5;overflow:visible" width="1" height="1"><text x="0.00" y="40.50" font-family="Liberation Sans, Arial, sans-serif" font-size="8.6" font-weight="400" fill="#444" stroke="#444" stroke-width="0.12" style="letter-spacing:-0.112px;">06/18/2025 12:01 PM</text></svg>
<svg class="t" id="t20" style="position:absolute;left:237px;top:161px;z-index:5;overflow:visible" width="1" height="1"><text x="0.20" y="40.50" font-family="Liberation Sans, Arial, sans-serif" font-size="8.6" font-weight="400" fill="#444" stroke="#444" stroke-width="0.12" style="letter-spacing:-0.110px;">06/19/2025 11:56 AM</text></svg>
<svg class="t" id="t21" style="position:absolute;left:363px;top:161px;z-index:5;overflow:visible" width="1" height="1"><text x="0.00" y="40.50" font-family="Liberation Sans, Arial, sans-serif" font-size="8.6" font-weight="400" fill="#444" stroke="#444" stroke-width="0.12" style="letter-spacing:-0.073px;">06/23/2025 5:52 PM</text></svg>
</div>
<div style="position:absolute;left:505px;top:0px;width:775px;height:720px;overflow:hidden;z-index:0;background:#ffffff;">
<svg class="t" id="t64" style="position:absolute;left:26px;top:-14px;z-index:5;overflow:visible" width="1" height="1"><text x="0.00" y="40.20" font-family="Liberation Sans, Arial, sans-serif" font-size="9.8" font-weight="400" fill="#6b7280" stroke="#6b7280" stroke-width="0.12" style="letter-spacing:-0.050px;">RunGroup</text></svg>
<svg class="t" id="t65" style="position:absolute;left:75px;top:-14px;z-index:5;overflow:visible" width="1" height="1"><text x="0.00" y="40.20" font-family="Liberation Sans, Arial, sans-serif" font-size="9.8" font-weight="700" fill="#4b5563" style="letter-spacing:0.601px;">#13a335c6</text></svg>
<div style="position:absolute;left:0px;top:43.5px;width:775px;height:1px;z-index:1;background:#eceef1;"></div>
<div style="position:absolute;left:289.79999999999995px;top:10.2px;width:161px;height:25.6px;z-index:1;box-sizing:border-box;border:1px solid #c7cbf7;border-radius:5px;background:#fff;"></div>
<svg style="position:absolute;left:298px;top:16px;z-index:3;overflow:visible;" width="15" height="15" viewBox="0 0 15 15"><g transform="translate(0.500,0.800)"><path d="M5 2 Q5.6 5.6 9.6 6.2 Q5.6 6.8 5 10.6 Q4.4 6.8 0.4 6.2 Q4.4 5.6 5 2 Z" fill="#4338ca"/><path d="M10.4 0.2 Q10.7 1.8 12.3 2.1 Q10.7 2.4 10.4 4 Q10.1 2.4 8.5 2.1 Q10.1 1.8 10.4 0.2 Z" fill="#4338ca"/><path d="M10.4 8.4 Q10.7 10 12.3 10.3 Q10.7 10.6 10.4 12.2 Q10.1 10.6 8.5 10.3 Q10.1 10 10.4 8.4 Z" fill="#4338ca"/></g></svg>
<svg class="t" id="t66" style="position:absolute;left:318px;top:-14px;z-index:5;overflow:visible" width="1" height="1"><text x="0.30" y="40.10" font-family="Liberation Sans, Arial, sans-serif" font-size="9.9" font-weight="400" fill="#4338ca" stroke="#4338ca" stroke-width="0.6" style="letter-spacing:0.307px;">Rungroup Statistic Report</text></svg>
<div style="position:absolute;left:459.20000000000005px;top:10.9px;width:95px;height:25px;z-index:1;background:#6366f1;border-radius:5px;"></div>
<svg style="position:absolute;left:472px;top:19px;z-index:3;overflow:visible;" width="10" height="10" viewBox="0 0 10 10"><g transform="translate(0.300,0.300)"><path d="M0.5 0.3 L7.3 4.1 L0.5 7.9 Z" fill="#fff"/></g></svg>
<svg class="t" id="t67" style="position:absolute;left:488px;top:-14px;z-index:5;overflow:visible" width="1" height="1"><text x="0.50" y="40.00" font-family="Liberation Sans, Arial, sans-serif" font-size="9.9" font-weight="400" fill="#fff" stroke="#fff" stroke-width="0.6" style="letter-spacing:0.127px;">Manual Run</text></svg>
<div style="position:absolute;left:562.8px;top:10.9px;width:123px;height:25px;z-index:1;background:#6366f1;border-radius:5px;"></div>
<svg style="position:absolute;left:572px;top:17px;z-index:3;overflow:visible;" width="15" height="13" viewBox="0 0 15 13"><g transform="translate(0.300,0.800)"><g fill="#fff"><rect x="0.3" y="0.5" width="1.6" height="10"/><rect x="0.3" y="8.9" width="12" height="1.6"/><rect x="3.6" y="3.5" width="1.6" height="6"/><rect x="6.6" y="1.5" width="1.6" height="8"/><rect x="9.6" y="5" width="1.6" height="4.5"/></g></g></svg>
<svg class="t" id="t68" style="position:absolute;left:591px;top:-14px;z-index:5;overflow:visible" width="1" height="1"><text x="0.60" y="40.00" font-family="Liberation Sans, Arial, sans-serif" font-size="9.9" font-weight="400" fill="#fff" stroke="#fff" stroke-width="0.6" style="letter-spacing:0.318px;">Combined Report</text></svg>
<div style="position:absolute;left:694px;top:10.2px;width:25.4px;height:25.7px;z-index:1;box-sizing:border-box;border:1px solid #e7e8ec;border-radius:5px;background:#f8f8f9;"></div>
<svg style="position:absolute;left:701px;top:21px;z-index:3;overflow:visible;" width="13" height="5" viewBox="0 0 13 5"><g transform="translate(0.500,0.500)"><circle cx="1.5" cy="1.5" r="1.25" fill="#222"/><circle cx="5.1" cy="1.5" r="1.25" fill="#222"/><circle cx="8.7" cy="1.5" r="1.25" fill="#222"/></g></svg>
<svg style="position:absolute;left:736px;top:18px;z-index:3;overflow:visible;" width="11" height="11" viewBox="0 0 11 11"><g transform="translate(0.000,0.500)"><path d="M0.7 0.7 L8.7 8.7 M8.7 0.7 L0.7 8.7" stroke="#333" stroke-width="1.4"/></g></svg>
<svg style="position:absolute;left:22px;top:65px;z-index:3;overflow:visible;" width="14" height="12" viewBox="0 0 14 12"><g transform="translate(0.100,0.200)"><path d="M0 1.2 Q0 0 1.2 0 H4.4 L5.6 1.4 H10.8 Q12 1.4 12 2.6 V8.600000000000001 Q12 9.8 10.8 9.8 H1.2 Q0 9.8 0 8.600000000000001 Z" fill="#000"/></g></svg>
<svg class="t" id="t69" style="position:absolute;left:40px;top:34px;z-index:5;overflow:visible" width="1" height="1"><text x="0.60" y="40.00" font-family="Liberation Sans, Arial, sans-serif" font-size="14" font-weight="400" fill="#2d3748" stroke="#2d3748" stroke-width="0.6" style="letter-spacing:0.219px;">Build: Version 7.15</text></svg>
<svg style="position:absolute;left:0px;top:0px;z-index:1;overflow:visible;" width="775" height="720" viewBox="505 0 775 720"><line x1="553.7" y1="285.15" x2="857.5" y2="285.15" stroke="#e9e9ec" stroke-width="1"/><line x1="553.7" y1="254.70" x2="857.5" y2="254.70" stroke="#e9e9ec" stroke-width="1"/><line x1="553.7" y1="224.25" x2="857.5" y2="224.25" stroke="#e9e9ec" stroke-width="1"/><line x1="553.7" y1="193.80" x2="857.5" y2="193.80" stroke="#e9e9ec" stroke-width="1"/><line x1="553.7" y1="163.35" x2="857.5" y2="163.35" stroke="#e9e9ec" stroke-width="1"/><line x1="553.7" y1="132.90" x2="857.5" y2="132.90" stroke="#e9e9ec" stroke-width="1"/><line x1="553.7" y1="315.60" x2="857.5" y2="315.60" stroke="#dcdce0" stroke-width="1"/><line x1="553.7" y1="315.60" x2="553.7" y2="319.60" stroke="#dcdce0" stroke-width="1"/><line x1="705.7" y1="315.60" x2="705.7" y2="319.60" stroke="#dcdce0" stroke-width="1"/><line x1="857.5" y1="315.60" x2="857.5" y2="319.60" stroke="#dcdce0" stroke-width="1"/><line x1="535" y1="114.7" x2="802" y2="114.7" stroke="#cfd3dc" stroke-width="1.2"/><polyline points="796.5,110.5 802.2,114.7 796.5,118.9" fill="none" stroke="#cfd3dc" stroke-width="1.2"/></svg>
<svg style="position:absolute;left:0px;top:0px;z-index:2;overflow:visible;" width="775" height="720" viewBox="505 0 775 720"><path d="M553.70,212.07 C604.37,212.07 655.03,132.90 705.70,132.90 C756.30,132.90 806.90,254.70 857.50,254.70" fill="none" stroke="#55bf7c" stroke-width="3.3"/><path d="M553.70,236.43 C604.37,236.43 655.03,169.44 705.70,169.44 C756.30,169.44 806.90,297.33 857.50,297.33" fill="none" stroke="#e76c6c" stroke-width="3.3"/><path d="M553.70,297.33 C604.37,297.33 655.03,315.60 705.70,315.60 C756.30,315.60 806.90,303.42 857.50,303.42" fill="none" stroke="#f0cc55" stroke-width="3.3"/></svg>
<div style="position:absolute;left:43.950000000000045px;top:290.73px;width:9.5px;height:10.6px;z-index:3;background:#f0cc55;border-radius:1.5px;"></div>
<svg class="t" id="t70" style="position:absolute;left:46px;top:259px;z-index:4;overflow:visible" width="1" height="1"><text x="0.30" y="40.33" font-family="Liberation Sans, Arial, sans-serif" font-size="9" font-weight="700" fill="#fff" style="letter-spacing:0.000px;">3</text></svg>
<div style="position:absolute;left:195.95000000000005px;top:309.0px;width:9.5px;height:10.6px;z-index:3;background:#f0cc55;border-radius:1.5px;"></div>
<svg class="t" id="t71" style="position:absolute;left:198px;top:277px;z-index:4;overflow:visible" width="1" height="1"><text x="0.30" y="40.60" font-family="Liberation Sans, Arial, sans-serif" font-size="9" font-weight="700" fill="#fff" style="letter-spacing:0.000px;">0</text></svg>
<div style="position:absolute;left:347.75px;top:296.82px;width:9.5px;height:10.6px;z-index:3;background:#f0cc55;border-radius:1.5px;"></div>
<svg class="t" id="t72" style="position:absolute;left:350px;top:265px;z-index:4;overflow:visible" width="1" height="1"><text x="0.10" y="40.42" font-family="Liberation Sans, Arial, sans-serif" font-size="9" font-weight="700" fill="#fff" style="letter-spacing:0.000px;">2</text></svg>
<div style="position:absolute;left:40.950000000000045px;top:205.47px;width:15.5px;height:10.6px;z-index:3;background:#55bf7c;border-radius:1.5px;"></div>
<svg class="t" id="t73" style="position:absolute;left:43px;top:174px;z-index:4;overflow:visible" width="1" height="1"><text x="0.60" y="40.07" font-family="Liberation Sans, Arial, sans-serif" font-size="9" font-weight="700" fill="#fff" style="letter-spacing:0.195px;">17</text></svg>
<div style="position:absolute;left:192.95000000000005px;top:126.30000000000003px;width:15.5px;height:10.6px;z-index:3;background:#55bf7c;border-radius:1.5px;"></div>
<svg class="t" id="t74" style="position:absolute;left:195px;top:94px;z-index:4;overflow:visible" width="1" height="1"><text x="0.60" y="40.90" font-family="Liberation Sans, Arial, sans-serif" font-size="9" font-weight="700" fill="#fff" style="letter-spacing:0.195px;">30</text></svg>
<div style="position:absolute;left:344.75px;top:248.1px;width:15.5px;height:10.6px;z-index:3;background:#55bf7c;border-radius:1.5px;"></div>
<svg class="t" id="t75" style="position:absolute;left:347px;top:216px;z-index:4;overflow:visible" width="1" height="1"><text x="0.40" y="40.70" font-family="Liberation Sans, Arial, sans-serif" font-size="9" font-weight="700" fill="#fff" style="letter-spacing:0.195px;">10</text></svg>
<div style="position:absolute;left:40.950000000000045px;top:229.82999999999998px;width:15.5px;height:10.6px;z-index:3;background:#e76c6c;border-radius:1.5px;"></div>
<svg class="t" id="t76" style="position:absolute;left:43px;top:198px;z-index:4;overflow:visible" width="1" height="1"><text x="0.60" y="40.43" font-family="Liberation Sans, Arial, sans-serif" font-size="9" font-weight="700" fill="#fff" style="letter-spacing:0.195px;">13</text></svg>
<div style="position:absolute;left:192.95000000000005px;top:162.84px;width:15.5px;height:10.6px;z-index:3;background:#e76c6c;border-radius:1.5px;"></div>
<svg class="t" id="t77" style="position:absolute;left:195px;top:131px;z-index:4;overflow:visible" width="1" height="1"><text x="0.60" y="40.44" font-family="Liberation Sans, Arial, sans-serif" font-size="9" font-weight="700" fill="#fff" style="letter-spacing:0.195px;">24</text></svg>
<div style="position:absolute;left:347.75px;top:290.73px;width:9.5px;height:10.6px;z-index:3;background:#e76c6c;border-radius:1.5px;"></div>
<svg class="t" id="t78" style="position:absolute;left:350px;top:259px;z-index:4;overflow:visible" width="1" height="1"><text x="0.10" y="40.33" font-family="Liberation Sans, Arial, sans-serif" font-size="9" font-weight="700" fill="#fff" style="letter-spacing:0.000px;">3</text></svg>
<svg class="t" id="t79" style="position:absolute;left:36px;top:277px;z-index:5;overflow:visible" width="1" height="1"><text x="0.70" y="40.50" font-family="Liberation Sans, Arial, sans-serif" font-size="8.6" font-weight="400" fill="#555" stroke="#555" stroke-width="0.12" style="letter-spacing:0.000px;">0</text></svg>
<svg class="t" id="t80" style="position:absolute;left:36px;top:247px;z-index:5;overflow:visible" width="1" height="1"><text x="0.70" y="40.05" font-family="Liberation Sans, Arial, sans-serif" font-size="8.6" font-weight="400" fill="#555" stroke="#555" stroke-width="0.12" style="letter-spacing:0.000px;">5</text></svg>
<svg class="t" id="t81" style="position:absolute;left:31px;top:216px;z-index:5;overflow:visible" width="1" height="1"><text x="0.30" y="40.60" font-family="Liberation Sans, Arial, sans-serif" font-size="8.6" font-weight="400" fill="#555" stroke="#555" stroke-width="0.12" style="letter-spacing:0.221px;">10</text></svg>
<svg class="t" id="t82" style="position:absolute;left:31px;top:186px;z-index:5;overflow:visible" width="1" height="1"><text x="0.30" y="40.15" font-family="Liberation Sans, Arial, sans-serif" font-size="8.6" font-weight="400" fill="#555" stroke="#555" stroke-width="0.12" style="letter-spacing:0.221px;">15</text></svg>
<svg class="t" id="t83" style="position:absolute;left:31px;top:155px;z-index:5;overflow:visible" width="1" height="1"><text x="0.30" y="40.70" font-family="Liberation Sans, Arial, sans-serif" font-size="8.6" font-weight="400" fill="#555" stroke="#555" stroke-width="0.12" style="letter-spacing:0.221px;">20</text></svg>
<svg class="t" id="t84" style="position:absolute;left:31px;top:125px;z-index:5;overflow:visible" width="1" height="1"><text x="0.30" y="40.25" font-family="Liberation Sans, Arial, sans-serif" font-size="8.6" font-weight="400" fill="#555" stroke="#555" stroke-width="0.12" style="letter-spacing:0.221px;">25</text></svg>
<svg class="t" id="t85" style="position:absolute;left:31px;top:94px;z-index:5;overflow:visible" width="1" height="1"><text x="0.30" y="40.80" font-family="Liberation Sans, Arial, sans-serif" font-size="8.6" font-weight="400" fill="#555" stroke="#555" stroke-width="0.12" style="letter-spacing:0.221px;">30</text></svg>
<svg class="t" id="t86" style="position:absolute;left:27px;top:294px;z-index:5;overflow:visible" width="1" height="1"><text x="0.70" y="40.40" font-family="Liberation Sans, Arial, sans-serif" font-size="8.6" font-weight="400" fill="#444" stroke="#444" stroke-width="0.12" style="letter-spacing:-0.137px;">06/27/2025</text></svg>
<svg class="t" id="t87" style="position:absolute;left:179px;top:294px;z-index:5;overflow:visible" width="1" height="1"><text x="0.70" y="40.40" font-family="Liberation Sans, Arial, sans-serif" font-size="8.6" font-weight="400" fill="#444" stroke="#444" stroke-width="0.12" style="letter-spacing:-0.137px;">07/04/2025</text></svg>
<svg class="t" id="t88" style="position:absolute;left:331px;top:294px;z-index:5;overflow:visible" width="1" height="1"><text x="0.50" y="40.40" font-family="Liberation Sans, Arial, sans-serif" font-size="8.6" font-weight="400" fill="#444" stroke="#444" stroke-width="0.12" style="letter-spacing:-0.137px;">07/06/2025</text></svg>
<svg style="position:absolute;left:0px;top:0px;z-index:2;overflow:visible;" width="775" height="720" viewBox="505 0 775 720"><circle cx="540.8" cy="107.4" r="4.3" fill="#f0cc55"/><circle cx="588.8" cy="107.4" r="4.3" fill="#55bf7c"/><circle cx="634.5" cy="107.4" r="4.3" fill="#e76c6c"/></svg>
<svg class="t" id="t89" style="position:absolute;left:42px;top:71px;z-index:5;overflow:visible" width="1" height="1"><text x="0.50" y="40.70" font-family="Liberation Sans, Arial, sans-serif" font-size="8.8" font-weight="400" fill="#555" stroke="#555" stroke-width="0.12" style="letter-spacing:-0.366px;">Skipped</text></svg>
<svg class="t" id="t90" style="position:absolute;left:90px;top:71px;z-index:5;overflow:visible" width="1" height="1"><text x="0.50" y="40.70" font-family="Liberation Sans, Arial, sans-serif" font-size="8.8" font-weight="400" fill="#555" stroke="#555" stroke-width="0.12" style="letter-spacing:-0.430px;">Passed</text></svg>
<svg class="t" id="t91" style="position:absolute;left:135px;top:71px;z-index:5;overflow:visible" width="1" height="1"><text x="0.80" y="40.70" font-family="Liberation Sans, Arial, sans-serif" font-size="8.8" font-weight="400" fill="#555" stroke="#555" stroke-width="0.12" style="letter-spacing:-0.313px;">Failed</text></svg>
<div style="position:absolute;left:393px;top:91px;width:359.7px;height:42px;z-index:1;background:#f3f6fd;"></div>
<div style="position:absolute;left:393px;top:175.4px;width:359.7px;height:28px;z-index:1;background:#f3f6fd;"></div>
<svg class="t" id="t92" style="position:absolute;left:404px;top:67px;z-index:5;overflow:visible" width="1" height="1"><text x="0.00" y="40.30" font-family="Liberation Sans, Arial, sans-serif" font-size="10.3" font-weight="400" fill="#6b7280" stroke="#6b7280" stroke-width="0.2" style="letter-spacing:0.191px;">Status</text></svg>
<svg class="t" id="t93" style="position:absolute;left:404px;top:109px;z-index:5;overflow:visible" width="1" height="1"><text x="0.00" y="40.10" font-family="Liberation Sans, Arial, sans-serif" font-size="10.3" font-weight="400" fill="#6b7280" stroke="#6b7280" stroke-width="0.2" style="letter-spacing:0.279px;">Tests</text></svg>
<svg class="t" id="t94" style="position:absolute;left:404px;top:152px;z-index:5;overflow:visible" width="1" height="1"><text x="0.30" y="40.30" font-family="Liberation Sans, Arial, sans-serif" font-size="10.3" font-weight="400" fill="#6b7280" stroke="#6b7280" stroke-width="0.2" style="letter-spacing:0.049px;">Updated</text></svg>
<svg class="t" id="t95" style="position:absolute;left:404px;top:179px;z-index:5;overflow:visible" width="1" height="1"><text x="0.30" y="40.00" font-family="Liberation Sans, Arial, sans-serif" font-size="10.3" font-weight="400" fill="#6b7280" stroke="#6b7280" stroke-width="0.2" style="letter-spacing:-0.463px;">Runs</text></svg>
<svg style="position:absolute;left:520px;top:102px;z-index:3;overflow:visible;" width="10" height="11" viewBox="0 0 10 11"><g transform="translate(0.000,0.300)"><circle cx="4.2" cy="4.2" r="3.8" fill="#ef4444"/></g></svg>
<svg class="t" id="t96" style="position:absolute;left:531px;top:69px;z-index:5;overflow:visible" width="1" height="1"><text x="0.60" y="40.90" font-family="Liberation Sans, Arial, sans-serif" font-size="10.1" font-weight="700" fill="#e5393f" style="letter-spacing:-0.600px;">FAILED</text></svg>
<svg class="t" id="t97" style="position:absolute;left:567px;top:69px;z-index:5;overflow:visible" width="1" height="1"><text x="0.70" y="40.90" font-family="Liberation Sans, Arial, sans-serif" font-size="10.1" font-weight="400" fill="#6b7280" stroke="#6b7280" stroke-width="0.12" style="letter-spacing:0.154px;">based on</text></svg>
<svg class="t" id="t98" style="position:absolute;left:613px;top:69px;z-index:5;overflow:visible" width="1" height="1"><text x="0.60" y="40.90" font-family="Liberation Sans, Arial, sans-serif" font-size="10.1" font-weight="700" fill="#4b5563" style="letter-spacing:0.000px;">3</text></svg>
<svg class="t" id="t99" style="position:absolute;left:622px;top:69px;z-index:5;overflow:visible" width="1" height="1"><text x="0.00" y="40.90" font-family="Liberation Sans, Arial, sans-serif" font-size="10.1" font-weight="400" fill="#6b7280" stroke="#6b7280" stroke-width="0.12" style="letter-spacing:0.328px;">runs with</text></svg>
<svg class="t" id="t100" style="position:absolute;left:667px;top:69px;z-index:5;overflow:visible" width="1" height="1"><text x="0.70" y="40.90" font-family="Liberation Sans, Arial, sans-serif" font-size="10.1" font-weight="700" fill="#4b5563" style="letter-spacing:-0.105px;">realistic</text></svg>
<svg class="t" id="t101" style="position:absolute;left:520px;top:84px;z-index:5;overflow:visible" width="1" height="1"><text x="0.60" y="40.20" font-family="Liberation Sans, Arial, sans-serif" font-size="10.1" font-weight="400" fill="#6b7280" stroke="#6b7280" stroke-width="0.12" style="letter-spacing:0.020px;">strategy</text></svg>
<svg class="t" id="t102" style="position:absolute;left:520px;top:112px;z-index:5;overflow:visible" width="1" height="1"><text x="0.60" y="40.00" font-family="Liberation Sans, Arial, sans-serif" font-size="10.1" font-weight="700" fill="#1f2937" style="letter-spacing:0.386px;">69</text></svg>
<svg class="t" id="t103" style="position:absolute;left:535px;top:112px;z-index:5;overflow:visible" width="1" height="1"><text x="0.50" y="40.00" font-family="Liberation Sans, Arial, sans-serif" font-size="10.1" font-weight="400" fill="#1f2937" stroke="#1f2937" stroke-width="0.12" style="letter-spacing:0.000px;">:</text></svg>
<svg style="position:absolute;left:547px;top:143px;z-index:3;overflow:visible;" width="11" height="11" viewBox="0 0 11 11"><g transform="translate(0.000,0.600)"><circle cx="4.7" cy="4.7" r="4.5" fill="#22b07a"/><polyline points="2.5,4.8 4.1,6.3 6.9,3.3" fill="none" stroke="#fff" stroke-width="1.3"/></g></svg>
<svg class="t" id="t104" style="position:absolute;left:560px;top:112px;z-index:5;overflow:visible" width="1" height="1"><text x="0.30" y="40.00" font-family="Liberation Sans, Arial, sans-serif" font-size="10.1" font-weight="700" fill="#22b07a" style="letter-spacing:0.686px;">40</text></svg>
<svg class="t" id="t105" style="position:absolute;left:576px;top:112px;z-index:5;overflow:visible" width="1" height="1"><text x="0.00" y="40.00" font-family="Liberation Sans, Arial, sans-serif" font-size="10.1" font-weight="400" fill="#22b07a" stroke="#22b07a" stroke-width="0.12" style="letter-spacing:0.213px;">passed</text></svg>
<svg style="position:absolute;left:626px;top:143px;z-index:3;overflow:visible;" width="11" height="11" viewBox="0 0 11 11"><g transform="translate(0.500,0.600)"><circle cx="4.7" cy="4.7" r="4.5" fill="#ef4444"/><rect x="2.6" y="4" width="4.2" height="1.4" fill="#fff"/></g></svg>
<svg class="t" id="t106" style="position:absolute;left:639px;top:112px;z-index:5;overflow:visible" width="1" height="1"><text x="0.60" y="40.00" font-family="Liberation Sans, Arial, sans-serif" font-size="10.1" font-weight="700" fill="#e5393f" style="letter-spacing:-0.114px;">27</text></svg>
<svg class="t" id="t107" style="position:absolute;left:654px;top:112px;z-index:5;overflow:visible" width="1" height="1"><text x="0.00" y="40.00" font-family="Liberation Sans, Arial, sans-serif" font-size="10.1" font-weight="400" fill="#e5393f" stroke="#e5393f" stroke-width="0.12" style="letter-spacing:0.237px;">failed</text></svg>
<svg style="position:absolute;left:696px;top:143px;z-index:3;overflow:visible;" width="11" height="11" viewBox="0 0 11 11"><g transform="translate(0.300,0.400)"><circle cx="4.7" cy="4.7" r="4.4" fill="#f39c0b"/><circle cx="4.7" cy="4.7" r="1.35" fill="#fff"/></g></svg>
<svg class="t" id="t108" style="position:absolute;left:709px;top:112px;z-index:5;overflow:visible" width="1" height="1"><text x="0.30" y="40.00" font-family="Liberation Sans, Arial, sans-serif" font-size="10.1" font-weight="700" fill="#f39c0b" style="letter-spacing:0.000px;">2</text></svg>
<svg class="t" id="t109" style="position:absolute;left:520px;top:126px;z-index:5;overflow:visible" width="1" height="1"><text x="0.60" y="40.60" font-family="Liberation Sans, Arial, sans-serif" font-size="10.1" font-weight="400" fill="#f59e0b" stroke="#f59e0b" stroke-width="0.12" style="letter-spacing:0.270px;">skipped</text></svg>
<svg class="t" id="t110" style="position:absolute;left:520px;top:154px;z-index:5;overflow:visible" width="1" height="1"><text x="0.10" y="40.30" font-family="Liberation Sans, Arial, sans-serif" font-size="10.1" font-weight="400" fill="#2d3748" stroke="#2d3748" stroke-width="0.12" style="letter-spacing:0.081px;">7 days ago</text></svg>
<svg class="t" id="t111" style="position:absolute;left:520px;top:182px;z-index:5;overflow:visible" width="1" height="1"><text x="0.10" y="40.00" font-family="Liberation Sans, Arial, sans-serif" font-size="10.1" font-weight="400" fill="#2d3748" stroke="#2d3748" stroke-width="0.12" style="letter-spacing:0.159px;">3 runs</text></svg>
<div style="position:absolute;left:637px;top:352.3px;width:92.4px;height:20.3px;z-index:3;box-sizing:border-box;border:1px solid #e5e5e7;border-radius:6px;background:#f7f7f8;"></div>
<svg style="position:absolute;left:643px;top:357px;z-index:4;overflow:visible;" width="13" height="12" viewBox="0 0 13 12"><g transform="translate(0.300,0.500)"><g fill="none" stroke="#333" stroke-width="1.15"><rect x="1.2" y="1.2" width="7.4" height="7.1" rx="1"/><line x1="4.5" y1="2.5" x2="4.5" y2="8.3"/><line x1="1.2" y1="4.9" x2="8.6" y2="4.9"/></g><rect x="0.7" y="0.6" width="8.4" height="2.1" rx="0.8" fill="#333"/><circle cx="8.3" cy="7.7" r="2.5" fill="#f7f7f8"/><polygon points="7.40,6.38 7.55,5.63 9.05,5.63 9.20,6.38 9.05,6.40 8.99,6.26 9.71,6.01 10.47,7.32 9.90,7.82 9.80,7.70 9.90,7.58 10.47,8.08 9.71,9.39 8.99,9.14 9.05,9.00 9.20,9.02 9.05,9.77 7.55,9.77 7.40,9.02 7.55,9.00 7.61,9.14 6.89,9.39 6.13,8.08 6.70,7.58 6.80,7.70 6.70,7.82 6.13,7.32 6.89,6.01 7.61,6.26 7.55,6.40" fill="#333"/><circle cx="8.3" cy="7.7" r="0.65" fill="#f7f7f8"/></g></svg>
<svg class="t" id="t112" style="position:absolute;left:660px;top:325px;z-index:4;overflow:visible" width="1" height="1"><text x="0.70" y="40.90" font-family="Liberation Sans, Arial, sans-serif" font-size="10" font-weight="400" fill="#333338" stroke="#333338" stroke-width="0.3" style="letter-spacing:0.199px;">Custom view</text></svg>
<svg style="position:absolute;left:738px;top:358px;z-index:2;overflow:visible;" width="11" height="10" viewBox="0 0 11 10"><g transform="translate(0.000,0.000)"><g stroke="#c4c6cc" stroke-width="1" fill="#fff"><line x1="0" y1="2" x2="10" y2="2"/><line x1="0" y1="6.5" x2="10" y2="6.5"/><circle cx="6.5" cy="2" r="1.5"/><circle cx="3" cy="6.5" r="1.5"/></g></g></svg>
<svg style="position:absolute;left:31px;top:393px;z-index:3;overflow:visible;" width="12" height="12" viewBox="0 0 12 12"><g transform="translate(0.100,0.900)"><circle cx="5" cy="5" r="4.15" fill="#e8424a"/><rect x="3" y="4.4" width="4" height="1.3" rx="0.3" fill="#fff"/></g></svg>
<svg style="position:absolute;left:46px;top:391px;z-index:3;overflow:visible;" width="16" height="16" viewBox="0 0 16 16"><g transform="translate(0.800,0.900)"><rect x="0" y="0" width="13.8" height="13.8" rx="3.22" fill="#fdefc3"/><g transform="scale(1.007)"><g stroke="#b8621a" stroke-width="1.25" stroke-linecap="round" opacity="0.9"><line x1="6.7" y1="2.5" x2="6.7" y2="3.5"/><line x1="3.8" y1="3.5" x2="4.5" y2="4.3"/><line x1="9.8" y1="3.4" x2="9.4" y2="4.3"/><line x1="2.4" y1="6.4" x2="3.5" y2="6.6"/><line x1="3.7" y1="9.3" x2="4.6" y2="8.7"/></g><path d="M7.2 7.1 L11.7 8.8 L10 9.6 L11.7 11.3 L10.9 12.1 L9.2 10.4 L8.4 12 Z" fill="#b34d06"/></g></g></svg>
<svg class="t" id="t113" style="position:absolute;left:66px;top:362px;z-index:4;overflow:visible" width="1" height="1"><text x="0.50" y="40.70" font-family="Liberation Sans, Arial, sans-serif" font-size="11.4" font-weight="400" fill="#3f4756" stroke="#3f4756" stroke-width="0.12" style="letter-spacing:0.172px;">Manual run</text></svg>
<svg class="t" id="t114" style="position:absolute;left:130px;top:361px;z-index:4;overflow:visible" width="1" height="1"><text x="0.80" y="40.50" font-family="Liberation Sans, Arial, sans-serif" font-size="8.6" font-weight="400" fill="#52525b" stroke="#52525b" stroke-width="0.12" style="letter-spacing:0.257px;">from</text></svg>
<svg class="t" id="t115" style="position:absolute;left:151px;top:361px;z-index:4;overflow:visible" width="1" height="1"><text x="0.80" y="40.50" font-family="Liberation Sans, Arial, sans-serif" font-size="8.6" font-weight="700" fill="#2d2d33" style="letter-spacing:-0.073px;">plan 123</text></svg>
<svg class="t" id="t116" style="position:absolute;left:197px;top:361px;z-index:4;overflow:visible" width="1" height="1"><text x="0.70" y="40.50" font-family="Liberation Sans, Arial, sans-serif" font-size="8.6" font-weight="400" fill="#8b909a" stroke="#8b909a" stroke-width="0.12" style="letter-spacing:-0.071px;">15 tests</text></svg>
<div style="position:absolute;left:438.70000000000005px;top:393.29999999999995px;width:28.2px;height:11.3px;z-index:3;background:#a7f0cf;border-radius:6px;"></div>
<svg class="t" id="t117" style="position:absolute;left:447px;top:361px;z-index:4;overflow:visible" width="1" height="1"><text x="0.50" y="40.90" font-family="Liberation Sans, Arial, sans-serif" font-size="8.6" font-weight="700" fill="#17885a" style="letter-spacing:0.821px;">10</text></svg>
<div style="position:absolute;left:469.79999999999995px;top:393.29999999999995px;width:28.2px;height:11.3px;z-index:3;background:#fecaca;border-radius:6px;"></div>
<svg class="t" id="t118" style="position:absolute;left:481px;top:361px;z-index:4;overflow:visible" width="1" height="1"><text x="0.30" y="40.90" font-family="Liberation Sans, Arial, sans-serif" font-size="8.6" font-weight="700" fill="#e5393f" style="letter-spacing:0.000px;">3</text></svg>
<div style="position:absolute;left:500.70000000000005px;top:393.29999999999995px;width:28.2px;height:11.3px;z-index:3;background:#fde58a;border-radius:6px;"></div>
<svg class="t" id="t119" style="position:absolute;left:512px;top:361px;z-index:4;overflow:visible" width="1" height="1"><text x="0.20" y="40.90" font-family="Liberation Sans, Arial, sans-serif" font-size="8.6" font-weight="700" fill="#f08c0a" style="letter-spacing:0.000px;">2</text></svg>
<svg style="position:absolute;left:586px;top:393px;z-index:3;overflow:visible;" width="16" height="16" viewBox="0 0 16 16"><g transform="translate(0.900,0.100)"><circle cx="7" cy="7" r="6.628318584070796" fill="#fff" stroke="#111" stroke-width="0.81"/><g transform="translate(7,7) scale(0.619)"><path d="M-6.5 -6 H2 V7.5 H-1 V-2.75 H-6.5 Z" fill="#111"/><rect x="2.75" y="-6" width="1.5" height="6.25" fill="#6aa5f5"/><rect x="5" y="-6" width="1.25" height="3.5" fill="#111"/></g></g></svg>
<svg class="t" id="t120" style="position:absolute;left:647px;top:361px;z-index:4;overflow:visible" width="1" height="1"><text x="0.25" y="40.90" font-family="Liberation Sans, Arial, sans-serif" font-size="8.8" font-weight="400" fill="#6b7280" stroke="#6b7280" stroke-width="0.12" style="letter-spacing:0.094px;">Jul 6, 2025 7:40 PM</text></svg>
<div style="position:absolute;left:732.5px;top:389.4px;width:20px;height:19.2px;z-index:3;box-sizing:border-box;border:1px solid #e7e8ec;border-radius:5px;background:#fafafa;"></div>
<svg style="position:absolute;left:738px;top:397px;z-index:4;overflow:visible;" width="11" height="5" viewBox="0 0 11 5"><g transform="translate(0.300,0.700)"><circle cx="1.2" cy="1.3" r="1.05" fill="#222"/><circle cx="4.3" cy="1.3" r="1.05" fill="#222"/><circle cx="7.4" cy="1.3" r="1.05" fill="#222"/></g></svg>
<svg style="position:absolute;left:31px;top:425px;z-index:3;overflow:visible;" width="12" height="12" viewBox="0 0 12 12"><g transform="translate(0.100,0.100)"><circle cx="5" cy="5" r="4.15" fill="#e8424a"/><rect x="3" y="4.4" width="4" height="1.3" rx="0.3" fill="#fff"/></g></svg>
<svg style="position:absolute;left:46px;top:423px;z-index:3;overflow:visible;" width="16" height="15" viewBox="0 0 16 15"><g transform="translate(0.800,0.100)"><rect x="0" y="0" width="13.8" height="13.8" rx="3.20" fill="#f4efff"/><g transform="scale(1.000)" fill="none" stroke="#7434e6" stroke-width="1.2"><path d="M10.83 7.33 A4.4 4.4 0 1 0 6.83 11.33"/><path d="M8.74 7.15 A2.3 2.3 0 1 0 6.65 9.24"/></g><g transform="scale(1.000)"><path d="M7.45 7.95 L12 9.6 L10.3 10.4 L12.2 12.3 L11.4 13.1 L9.5 11.2 L8.7 12.8 Z" fill="#6a28d9"/></g></g></svg>
<svg class="t" id="t121" style="position:absolute;left:66px;top:393px;z-index:4;overflow:visible" width="1" height="1"><text x="0.50" y="40.90" font-family="Liberation Sans, Arial, sans-serif" font-size="11.4" font-weight="400" fill="#3f4756" stroke="#3f4756" stroke-width="0.12" style="letter-spacing:0.268px;">Automated run</text></svg>
<svg class="t" id="t122" style="position:absolute;left:149px;top:392px;z-index:4;overflow:visible" width="1" height="1"><text x="0.70" y="40.70" font-family="Liberation Sans, Arial, sans-serif" font-size="8.6" font-weight="400" fill="#52525b" stroke="#52525b" stroke-width="0.12" style="letter-spacing:0.257px;">from</text></svg>
<svg class="t" id="t123" style="position:absolute;left:171px;top:392px;z-index:4;overflow:visible" width="1" height="1"><text x="0.30" y="40.70" font-family="Liberation Sans, Arial, sans-serif" font-size="8.6" font-weight="700" fill="#2d2d33" style="letter-spacing:-0.075px;">small plan</text></svg>
<div style="position:absolute;left:223.60000000000002px;top:423.8px;width:39.3px;height:12.8px;z-index:3;background:#e7e8eb;border-radius:6.4px;"></div>
<svg style="position:absolute;left:229px;top:426px;z-index:4;overflow:visible;" width="12" height="12" viewBox="0 0 12 12"><g transform="translate(0.900,0.200)"><polygon points="3.61,1.90 3.82,0.55 6.18,0.55 6.39,1.90 6.50,2.40 7.00,2.25 8.26,1.75 9.44,3.80 8.38,4.65 8.00,5.00 8.38,5.35 9.44,6.20 8.26,8.25 7.00,7.75 6.50,7.60 6.39,8.10 6.18,9.45 3.82,9.45 3.61,8.10 3.50,7.60 3.00,7.75 1.74,8.25 0.56,6.20 1.62,5.35 2.00,5.00 1.62,4.65 0.56,3.80 1.74,1.75 3.00,2.25 3.50,2.40" fill="#5d6370"/><circle cx="5" cy="5" r="1.5" fill="#e7e8eb"/></g></svg>
<svg class="t" id="t124" style="position:absolute;left:242px;top:393px;z-index:5;overflow:visible" width="1" height="1"><text x="0.40" y="40.20" font-family="Liberation Sans, Arial, sans-serif" font-size="8.6" font-weight="400" fill="#5d6370" stroke="#5d6370" stroke-width="0.3" style="letter-spacing:0.112px;">test</text></svg>
<svg class="t" id="t125" style="position:absolute;left:268px;top:392px;z-index:4;overflow:visible" width="1" height="1"><text x="0.70" y="40.70" font-family="Liberation Sans, Arial, sans-serif" font-size="8.6" font-weight="400" fill="#8b909a" stroke="#8b909a" stroke-width="0.12" style="letter-spacing:0.257px;">54 tests</text></svg>
<div style="position:absolute;left:438.70000000000005px;top:424.5px;width:28.2px;height:11.3px;z-index:3;background:#a7f0cf;border-radius:6px;"></div>
<svg class="t" id="t126" style="position:absolute;left:447px;top:393px;z-index:4;overflow:visible" width="1" height="1"><text x="0.50" y="40.10" font-family="Liberation Sans, Arial, sans-serif" font-size="8.6" font-weight="700" fill="#17885a" style="letter-spacing:0.821px;">30</text></svg>
<div style="position:absolute;left:469.79999999999995px;top:424.5px;width:28.2px;height:11.3px;z-index:3;background:#fecaca;border-radius:6px;"></div>
<svg class="t" id="t127" style="position:absolute;left:478px;top:393px;z-index:4;overflow:visible" width="1" height="1"><text x="0.60" y="40.10" font-family="Liberation Sans, Arial, sans-serif" font-size="8.6" font-weight="700" fill="#e5393f" style="letter-spacing:0.821px;">24</text></svg>
<div style="position:absolute;left:500.70000000000005px;top:424.5px;width:28.2px;height:11.3px;z-index:3;background:#fef5dc;border-radius:6px;"></div>
<svg class="t" id="t128" style="position:absolute;left:512px;top:393px;z-index:4;overflow:visible" width="1" height="1"><text x="0.20" y="40.10" font-family="Liberation Sans, Arial, sans-serif" font-size="8.6" font-weight="700" fill="#fcdcb0" style="letter-spacing:0.000px;">0</text></svg>
<svg class="t" id="t129" style="position:absolute;left:645px;top:393px;z-index:4;overflow:visible" width="1" height="1"><text x="0.00" y="40.10" font-family="Liberation Sans, Arial, sans-serif" font-size="8.8" font-weight="400" fill="#6b7280" stroke="#6b7280" stroke-width="0.12" style="letter-spacing:-0.013px;">Jul 4, 2025 11:27 AM</text></svg>
<div style="position:absolute;left:732.5px;top:420.6px;width:20px;height:19.2px;z-index:3;box-sizing:border-box;border:1px solid #e7e8ec;border-radius:5px;background:#fafafa;"></div>
<svg style="position:absolute;left:738px;top:428px;z-index:4;overflow:visible;" width="11" height="5" viewBox="0 0 11 5"><g transform="translate(0.300,0.900)"><circle cx="1.2" cy="1.3" r="1.05" fill="#222"/><circle cx="4.3" cy="1.3" r="1.05" fill="#222"/><circle cx="7.4" cy="1.3" r="1.05" fill="#222"/></g></svg>
<svg style="position:absolute;left:31px;top:456px;z-index:3;overflow:visible;" width="12" height="11" viewBox="0 0 12 11"><g transform="translate(0.100,0.000)"><circle cx="5" cy="5" r="4.15" fill="#e8424a"/><rect x="3" y="4.4" width="4" height="1.3" rx="0.3" fill="#fff"/></g></svg>
<svg style="position:absolute;left:46px;top:454px;z-index:3;overflow:visible;" width="16" height="15" viewBox="0 0 16 15"><g transform="translate(0.800,0.000)"><rect x="0" y="0" width="13.8" height="13.8" rx="3.20" fill="#e3effd"/><g transform="scale(1.000)" fill="none" stroke="#1f5fa9" stroke-width="1.25" stroke-linecap="round"><path d="M8.3 2.9 Q10.7 3.7 11.2 6.3"/><path d="M2.8 7.6 Q3.3 10.4 6 11.3"/><line x1="2.3" y1="4.8" x2="5.4" y2="4.8"/><line x1="8.6" y1="9.6" x2="12" y2="9.6"/></g><g transform="scale(1.000)" fill="#1f5fa9"><path d="M5 3 L7.6 4.8 L5 6.6 Z"/><path d="M9 7.8 L6.4 9.6 L9 11.4 Z"/></g></g></svg>
<svg class="t" id="t130" style="position:absolute;left:66px;top:424px;z-index:4;overflow:visible" width="1" height="1"><text x="0.50" y="40.80" font-family="Liberation Sans, Arial, sans-serif" font-size="11.4" font-weight="400" fill="#3f4756" stroke="#3f4756" stroke-width="0.12" style="letter-spacing:0.171px;">Manual &amp; automated run</text></svg>
<svg class="t" id="t131" style="position:absolute;left:200px;top:423px;z-index:4;overflow:visible" width="1" height="1"><text x="0.60" y="40.60" font-family="Liberation Sans, Arial, sans-serif" font-size="8.6" font-weight="400" fill="#52525b" stroke="#52525b" stroke-width="0.12" style="letter-spacing:0.257px;">from</text></svg>
<svg class="t" id="t132" style="position:absolute;left:221px;top:423px;z-index:4;overflow:visible" width="1" height="1"><text x="0.00" y="40.60" font-family="Liberation Sans, Arial, sans-serif" font-size="8.6" font-weight="700" fill="#2d2d33" style="letter-spacing:0.027px;">Mixed plan</text></svg>
<div style="position:absolute;left:277.20000000000005px;top:454.7px;width:39.1px;height:12.8px;z-index:3;background:#e7e8eb;border-radius:6.4px;"></div>
<svg style="position:absolute;left:283px;top:457px;z-index:4;overflow:visible;" width="12" height="12" viewBox="0 0 12 12"><g transform="translate(0.500,0.100)"><polygon points="3.61,1.90 3.82,0.55 6.18,0.55 6.39,1.90 6.50,2.40 7.00,2.25 8.26,1.75 9.44,3.80 8.38,4.65 8.00,5.00 8.38,5.35 9.44,6.20 8.26,8.25 7.00,7.75 6.50,7.60 6.39,8.10 6.18,9.45 3.82,9.45 3.61,8.10 3.50,7.60 3.00,7.75 1.74,8.25 0.56,6.20 1.62,5.35 2.00,5.00 1.62,4.65 0.56,3.80 1.74,1.75 3.00,2.25 3.50,2.40" fill="#5d6370"/><circle cx="5" cy="5" r="1.5" fill="#e7e8eb"/></g></svg>
<svg class="t" id="t133" style="position:absolute;left:296px;top:424px;z-index:5;overflow:visible" width="1" height="1"><text x="0.00" y="40.10" font-family="Liberation Sans, Arial, sans-serif" font-size="8.6" font-weight="400" fill="#5d6370" stroke="#5d6370" stroke-width="0.3" style="letter-spacing:0.112px;">test</text></svg>
<svg class="t" id="t134" style="position:absolute;left:322px;top:423px;z-index:4;overflow:visible" width="1" height="1"><text x="0.80" y="40.60" font-family="Liberation Sans, Arial, sans-serif" font-size="8.6" font-weight="400" fill="#8b909a" stroke="#8b909a" stroke-width="0.12" style="letter-spacing:0.157px;">33 tests</text></svg>
<div style="position:absolute;left:438.70000000000005px;top:455.4px;width:28.2px;height:11.3px;z-index:3;background:#a7f0cf;border-radius:6px;"></div>
<svg class="t" id="t135" style="position:absolute;left:447px;top:424px;z-index:4;overflow:visible" width="1" height="1"><text x="0.50" y="40.00" font-family="Liberation Sans, Arial, sans-serif" font-size="8.6" font-weight="700" fill="#17885a" style="letter-spacing:0.821px;">17</text></svg>
<div style="position:absolute;left:469.79999999999995px;top:455.4px;width:28.2px;height:11.3px;z-index:3;background:#fecaca;border-radius:6px;"></div>
<svg class="t" id="t136" style="position:absolute;left:478px;top:424px;z-index:4;overflow:visible" width="1" height="1"><text x="0.60" y="40.00" font-family="Liberation Sans, Arial, sans-serif" font-size="8.6" font-weight="700" fill="#e5393f" style="letter-spacing:0.821px;">13</text></svg>
<div style="position:absolute;left:500.70000000000005px;top:455.4px;width:28.2px;height:11.3px;z-index:3;background:#fde58a;border-radius:6px;"></div>
<svg class="t" id="t137" style="position:absolute;left:512px;top:424px;z-index:4;overflow:visible" width="1" height="1"><text x="0.20" y="40.00" font-family="Liberation Sans, Arial, sans-serif" font-size="8.6" font-weight="700" fill="#f08c0a" style="letter-spacing:0.000px;">3</text></svg>
<svg style="position:absolute;left:586px;top:455px;z-index:3;overflow:visible;" width="16" height="16" viewBox="0 0 16 16"><g transform="translate(0.900,0.200)"><circle cx="7" cy="7" r="6.628318584070796" fill="#111" stroke="#111" stroke-width="0.81"/><g transform="translate(7,7) scale(0.619)"><path d="M-6.5 -6 H2 V7.5 H-1 V-2.75 H-6.5 Z" fill="#fff"/><rect x="2.75" y="-6" width="1.5" height="6.25" fill="#6aa5f5"/><rect x="5" y="-6" width="1.25" height="3.5" fill="#fff"/></g></g></svg>
<svg class="t" id="t138" style="position:absolute;left:640px;top:424px;z-index:4;overflow:visible" width="1" height="1"><text x="0.25" y="40.00" font-family="Liberation Sans, Arial, sans-serif" font-size="8.8" font-weight="400" fill="#6b7280" stroke="#6b7280" stroke-width="0.12" style="letter-spacing:0.045px;">Jun 27, 2025 5:55 AM</text></svg>
<div style="position:absolute;left:732.5px;top:451.5px;width:20px;height:19.2px;z-index:3;box-sizing:border-box;border:1px solid #e7e8ec;border-radius:5px;background:#fafafa;"></div>
<svg style="position:absolute;left:738px;top:459px;z-index:4;overflow:visible;" width="11" height="5" viewBox="0 0 11 5"><g transform="translate(0.300,0.800)"><circle cx="1.2" cy="1.3" r="1.05" fill="#222"/><circle cx="4.3" cy="1.3" r="1.05" fill="#222"/><circle cx="7.4" cy="1.3" r="1.05" fill="#222"/></g></svg>
<div style="position:absolute;left:630.4000000000001px;top:347.4px;width:106.1px;height:30.3px;z-index:2;background:#f9f9fa;box-shadow:0 1px 6px rgba(0,0,0,0.10);"></div>
</div>
</body></html>
